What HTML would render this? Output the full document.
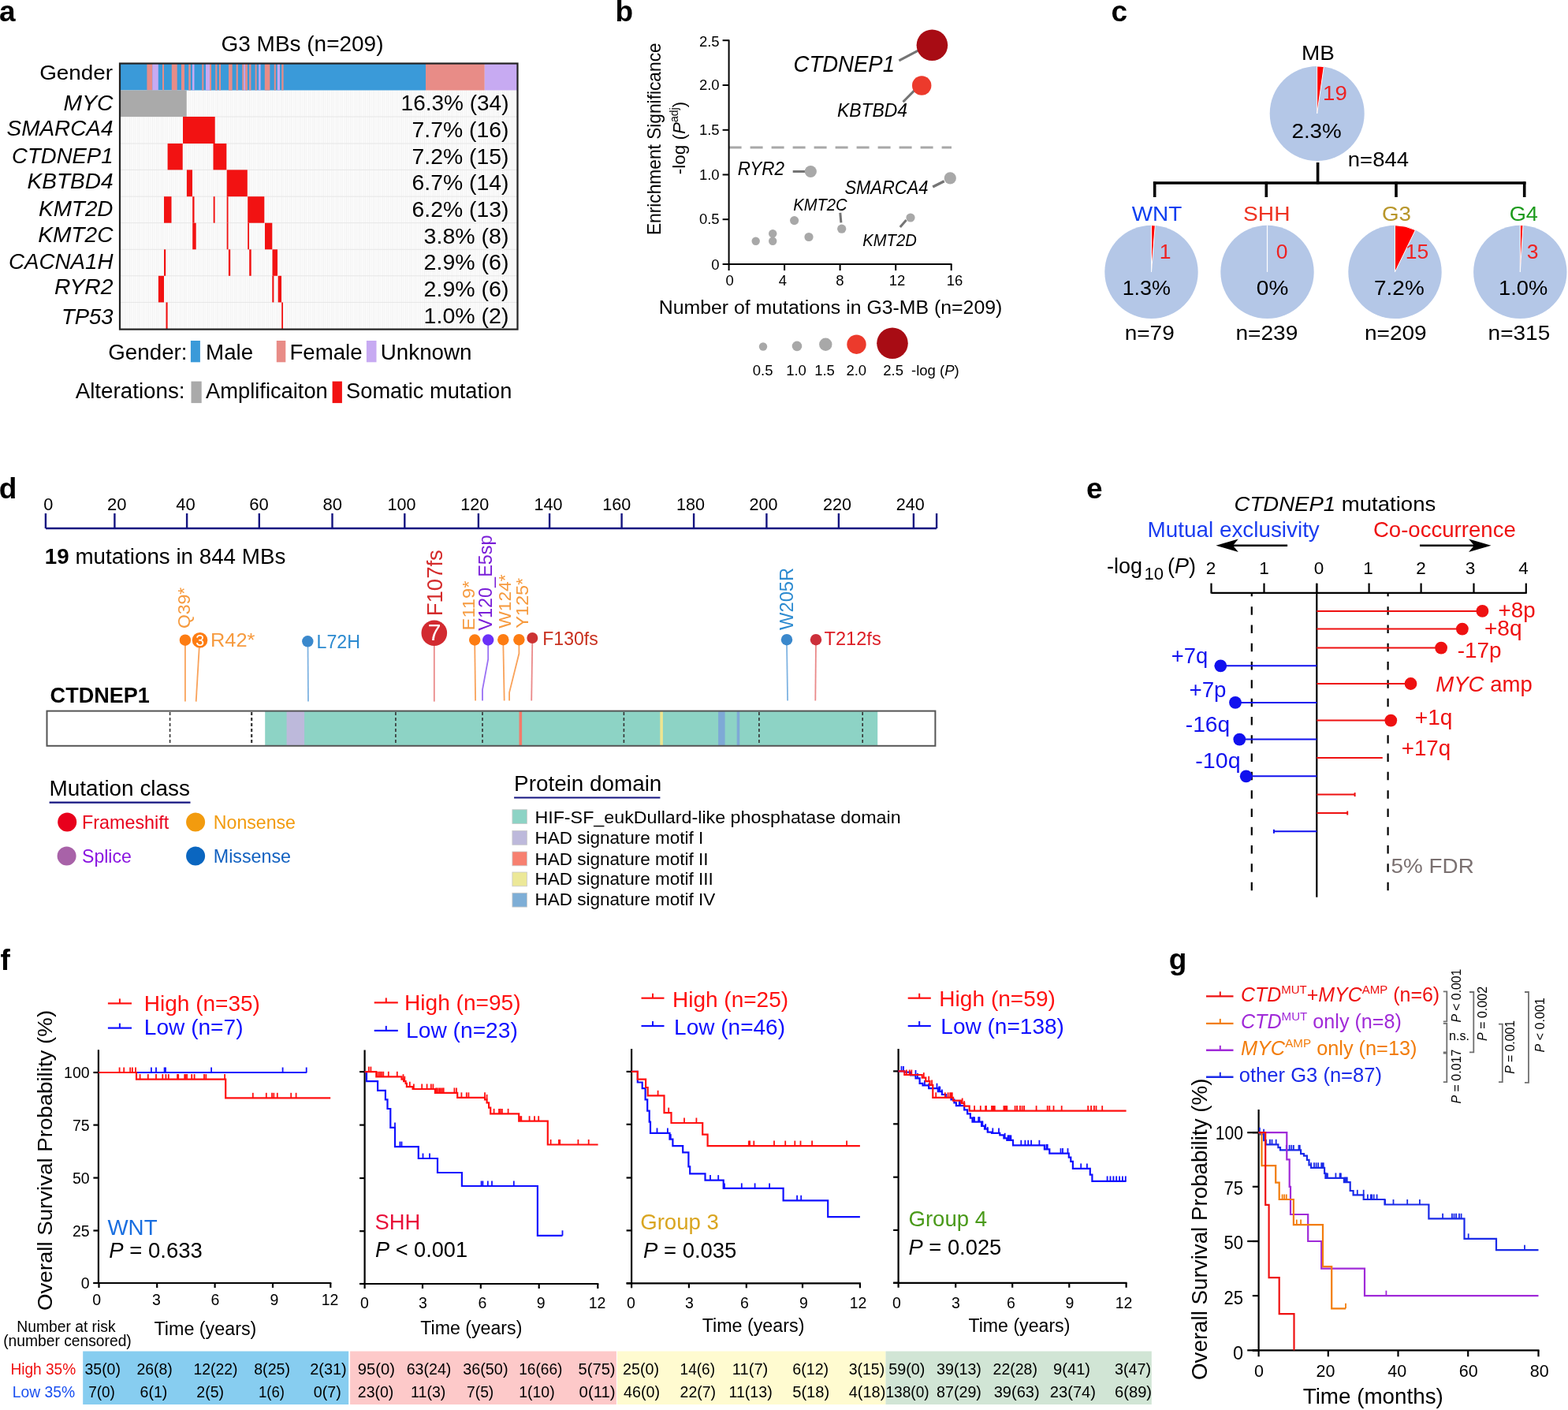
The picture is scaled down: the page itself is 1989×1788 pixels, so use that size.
<!DOCTYPE html>
<html><head><meta charset="utf-8"><title>Figure</title>
<style>html,body{margin:0;padding:0;background:#fff;}svg{display:block;}
text{font-family:"Liberation Sans",Arial,sans-serif;}</style></head>
<body><svg width="1989" height="1788" viewBox="0 0 1989 1788">
<rect width="1989" height="1788" fill="#fff"/>
<text x="-1.0" y="27.3" font-size="37" font-weight="bold">a</text>
<text x="780.5" y="26.8" font-size="37" font-weight="bold">b</text>
<text x="1409.5" y="27.3" font-size="37" font-weight="bold">c</text>
<text x="-1.3" y="631.7" font-size="37" font-weight="bold">d</text>
<text x="1378.0" y="632.3" font-size="37" font-weight="bold">e</text>
<text x="0.4" y="1229.8" font-size="37" font-weight="bold">f</text>
<text x="1482.7" y="1229.2" font-size="37" font-weight="bold">g</text>
<text x="383.5" y="65.0" font-size="27" text-anchor="middle" textLength="205.9" lengthAdjust="spacingAndGlyphs">G3 MBs (n=209)</text>
<defs><pattern id="cols" x="152" y="0" width="2.413" height="10" patternUnits="userSpaceOnUse"><rect width="2.413" height="10" fill="#fcfcfc"/><rect x="0" width="0.6" height="10" fill="#eeeeee"/></pattern></defs>
<rect x="152.0" y="114.5" width="504.5" height="303.1" fill="url(#cols)" />
<line x1="152.0" y1="148.0" x2="656.5" y2="148.0" stroke="#e6e6e6" stroke-width="1" />
<line x1="152.0" y1="182.0" x2="656.5" y2="182.0" stroke="#e6e6e6" stroke-width="1" />
<line x1="152.0" y1="215.4" x2="656.5" y2="215.4" stroke="#e6e6e6" stroke-width="1" />
<line x1="152.0" y1="249.2" x2="656.5" y2="249.2" stroke="#e6e6e6" stroke-width="1" />
<line x1="152.0" y1="282.7" x2="656.5" y2="282.7" stroke="#e6e6e6" stroke-width="1" />
<line x1="152.0" y1="316.3" x2="656.5" y2="316.3" stroke="#e6e6e6" stroke-width="1" />
<line x1="152.0" y1="349.8" x2="656.5" y2="349.8" stroke="#e6e6e6" stroke-width="1" />
<line x1="152.0" y1="383.4" x2="656.5" y2="383.4" stroke="#e6e6e6" stroke-width="1" />
<rect x="152.0" y="80.5" width="388.0" height="34.0" fill="#3a9ad9" />
<rect x="186.4" y="80.5" width="6.9" height="34.0" fill="#e88c87" />
<rect x="193.3" y="80.5" width="7.5" height="34.0" fill="#c7aaf2" />
<rect x="206.0" y="80.5" width="2.0" height="34.0" fill="#e88c87" />
<rect x="217.8" y="80.5" width="6.9" height="34.0" fill="#e88c87" />
<rect x="230.0" y="80.5" width="4.0" height="34.0" fill="#e88c87" />
<rect x="239.3" y="80.5" width="2.4" height="34.0" fill="#e88c87" />
<rect x="244.0" y="80.5" width="2.5" height="34.0" fill="#c7aaf2" />
<rect x="256.3" y="80.5" width="2.0" height="34.0" fill="#e88c87" />
<rect x="261.0" y="80.5" width="5.0" height="34.0" fill="#c7aaf2" />
<rect x="266.0" y="80.5" width="2.0" height="34.0" fill="#e88c87" />
<rect x="273.3" y="80.5" width="2.0" height="34.0" fill="#e88c87" />
<rect x="278.0" y="80.5" width="2.0" height="34.0" fill="#e88c87" />
<rect x="290.0" y="80.5" width="4.6" height="34.0" fill="#e88c87" />
<rect x="299.7" y="80.5" width="2.1" height="34.0" fill="#e88c87" />
<rect x="307.3" y="80.5" width="2.0" height="34.0" fill="#e88c87" />
<rect x="309.3" y="80.5" width="1.9" height="34.0" fill="#c7aaf2" />
<rect x="311.2" y="80.5" width="2.7" height="34.0" fill="#e88c87" />
<rect x="316.2" y="80.5" width="2.2" height="34.0" fill="#e88c87" />
<rect x="323.7" y="80.5" width="1.9" height="34.0" fill="#e88c87" />
<rect x="328.2" y="80.5" width="2.4" height="34.0" fill="#c7aaf2" />
<rect x="335.8" y="80.5" width="6.6" height="34.0" fill="#e88c87" />
<rect x="347.8" y="80.5" width="2.0" height="34.0" fill="#e88c87" />
<rect x="351.8" y="80.5" width="3.2" height="34.0" fill="#c7aaf2" />
<rect x="357.3" y="80.5" width="2.3" height="34.0" fill="#e88c87" />
<rect x="540.0" y="80.5" width="74.8" height="34.0" fill="#e88c87" />
<rect x="614.8" y="80.5" width="41.7" height="34.0" fill="#c7aaf2" />
<rect x="152.0" y="114.5" width="84.7" height="33.5" fill="#aaaaaa" />
<rect x="232.0" y="148.0" width="40.7" height="34.0" fill="#f21212" />
<rect x="212.6" y="182.0" width="19.1" height="33.4" fill="#f21212" />
<rect x="270.5" y="182.0" width="16.8" height="33.4" fill="#f21212" />
<rect x="236.9" y="215.4" width="7.1" height="33.8" fill="#f21212" />
<rect x="287.7" y="215.4" width="26.1" height="33.8" fill="#f21212" />
<rect x="208.0" y="249.2" width="9.5" height="33.5" fill="#f21212" />
<rect x="244.2" y="249.2" width="2.3" height="33.5" fill="#f21212" />
<rect x="270.7" y="249.2" width="1.9" height="33.5" fill="#f21212" />
<rect x="287.7" y="249.2" width="1.8" height="33.5" fill="#f21212" />
<rect x="314.2" y="249.2" width="21.1" height="33.5" fill="#f21212" />
<rect x="244.2" y="282.7" width="4.5" height="33.6" fill="#f21212" />
<rect x="287.7" y="282.7" width="1.8" height="33.6" fill="#f21212" />
<rect x="314.2" y="282.7" width="1.8" height="33.6" fill="#f21212" />
<rect x="336.0" y="282.7" width="9.3" height="33.6" fill="#f21212" />
<rect x="208.0" y="316.3" width="2.2" height="33.5" fill="#f21212" />
<rect x="289.9" y="316.3" width="2.3" height="33.5" fill="#f21212" />
<rect x="316.2" y="316.3" width="2.5" height="33.5" fill="#f21212" />
<rect x="345.5" y="316.3" width="6.5" height="33.5" fill="#f21212" />
<rect x="200.9" y="349.8" width="7.1" height="33.6" fill="#f21212" />
<rect x="345.3" y="349.8" width="2.1" height="33.6" fill="#f21212" />
<rect x="352.7" y="349.8" width="4.3" height="33.6" fill="#f21212" />
<rect x="210.5" y="383.4" width="2.1" height="34.2" fill="#f21212" />
<rect x="357.2" y="383.4" width="1.8" height="34.2" fill="#f21212" />
<rect x="152.0" y="80.5" width="504.5" height="337.1" fill="none" stroke="#222" stroke-width="2.2"/>
<text x="143.0" y="101.3" font-size="26" text-anchor="end" textLength="92.8" lengthAdjust="spacingAndGlyphs">Gender</text>
<text x="143.5" y="139.5" font-size="27" text-anchor="end" font-style="italic" textLength="62.9" lengthAdjust="spacingAndGlyphs">MYC</text>
<text x="143.5" y="172.2" font-size="27" text-anchor="end" font-style="italic" textLength="134.9" lengthAdjust="spacingAndGlyphs">SMARCA4</text>
<text x="143.5" y="207.1" font-size="27" text-anchor="end" font-style="italic" textLength="128.4" lengthAdjust="spacingAndGlyphs">CTDNEP1</text>
<text x="143.5" y="239.4" font-size="27" text-anchor="end" font-style="italic" textLength="108.9" lengthAdjust="spacingAndGlyphs">KBTBD4</text>
<text x="143.5" y="273.7" font-size="27" text-anchor="end" font-style="italic" textLength="94.4" lengthAdjust="spacingAndGlyphs">KMT2D</text>
<text x="143.5" y="307.0" font-size="27" text-anchor="end" font-style="italic" textLength="95.3" lengthAdjust="spacingAndGlyphs">KMT2C</text>
<text x="143.5" y="341.3" font-size="27" text-anchor="end" font-style="italic" textLength="132.5" lengthAdjust="spacingAndGlyphs">CACNA1H</text>
<text x="143.5" y="372.6" font-size="27" text-anchor="end" font-style="italic" textLength="74.4" lengthAdjust="spacingAndGlyphs">RYR2</text>
<text x="143.5" y="410.8" font-size="27" text-anchor="end" font-style="italic" textLength="65.6" lengthAdjust="spacingAndGlyphs">TP53</text>
<text x="645.5" y="140.0" font-size="27.5" text-anchor="end" textLength="136.9" lengthAdjust="spacingAndGlyphs">16.3% (34)</text>
<text x="645.5" y="174.2" font-size="27.5" text-anchor="end" textLength="122.9" lengthAdjust="spacingAndGlyphs">7.7% (16)</text>
<text x="645.5" y="207.5" font-size="27.5" text-anchor="end" textLength="122.9" lengthAdjust="spacingAndGlyphs">7.2% (15)</text>
<text x="645.5" y="241.3" font-size="27.5" text-anchor="end" textLength="122.9" lengthAdjust="spacingAndGlyphs">6.7% (14)</text>
<text x="645.5" y="275.0" font-size="27.5" text-anchor="end" textLength="122.9" lengthAdjust="spacingAndGlyphs">6.2% (13)</text>
<text x="645.5" y="308.6" font-size="27.5" text-anchor="end" textLength="107.9" lengthAdjust="spacingAndGlyphs">3.8% (8)</text>
<text x="645.5" y="342.3" font-size="27.5" text-anchor="end" textLength="107.9" lengthAdjust="spacingAndGlyphs">2.9% (6)</text>
<text x="645.5" y="375.9" font-size="27.5" text-anchor="end" textLength="107.9" lengthAdjust="spacingAndGlyphs">2.9% (6)</text>
<text x="645.5" y="409.5" font-size="27.5" text-anchor="end" textLength="107.9" lengthAdjust="spacingAndGlyphs">1.0% (2)</text>
<text x="137.3" y="455.8" font-size="27" textLength="100.2" lengthAdjust="spacingAndGlyphs">Gender:</text>
<rect x="241.9" y="432.0" width="12.0" height="27.3" fill="#3a9ad9" />
<text x="261.1" y="455.8" font-size="27" textLength="60.1" lengthAdjust="spacingAndGlyphs">Male</text>
<rect x="350.8" y="432.0" width="11.5" height="27.3" fill="#e88c87" />
<text x="367.4" y="455.8" font-size="27" textLength="92.2" lengthAdjust="spacingAndGlyphs">Female</text>
<rect x="464.9" y="432.0" width="12.6" height="27.3" fill="#c7aaf2" />
<text x="482.7" y="455.8" font-size="27" textLength="115.9" lengthAdjust="spacingAndGlyphs">Unknown</text>
<text x="95.7" y="504.6" font-size="27" textLength="138.9" lengthAdjust="spacingAndGlyphs">Alterations:</text>
<rect x="242.5" y="483.6" width="13.2" height="27.5" fill="#aaaaaa" />
<text x="261.1" y="504.6" font-size="27" textLength="154.7" lengthAdjust="spacingAndGlyphs">Amplificaiton</text>
<rect x="421.6" y="483.6" width="12.3" height="27.5" fill="#f21212" />
<text x="439.1" y="504.6" font-size="27" textLength="210.3" lengthAdjust="spacingAndGlyphs">Somatic mutation</text>
<line x1="924.6" y1="187.0" x2="1207.0" y2="187.0" stroke="#a8a8a8" stroke-width="3.2" stroke-dasharray="16,11"/>
<line x1="924.6" y1="50.5" x2="924.6" y2="336.0" stroke="#000" stroke-width="2" />
<line x1="923.6" y1="335.0" x2="1207.5" y2="335.0" stroke="#000" stroke-width="2" />
<line x1="916.6" y1="335.0" x2="924.6" y2="335.0" stroke="#000" stroke-width="2" />
<text x="912.6" y="341.7" font-size="18.5" text-anchor="end">0</text>
<line x1="916.6" y1="278.2" x2="924.6" y2="278.2" stroke="#000" stroke-width="2" />
<text x="912.6" y="283.6" font-size="18.5" text-anchor="end">0.5</text>
<line x1="916.6" y1="221.5" x2="924.6" y2="221.5" stroke="#000" stroke-width="2" />
<text x="912.6" y="228.1" font-size="18.5" text-anchor="end">1.0</text>
<line x1="916.6" y1="164.8" x2="924.6" y2="164.8" stroke="#000" stroke-width="2" />
<text x="912.6" y="170.9" font-size="18.5" text-anchor="end">1.5</text>
<line x1="916.6" y1="108.0" x2="924.6" y2="108.0" stroke="#000" stroke-width="2" />
<text x="912.6" y="113.7" font-size="18.5" text-anchor="end">2.0</text>
<line x1="916.6" y1="51.2" x2="924.6" y2="51.2" stroke="#000" stroke-width="2" />
<text x="912.6" y="59.4" font-size="18.5" text-anchor="end">2.5</text>
<line x1="924.6" y1="335.0" x2="924.6" y2="343.0" stroke="#000" stroke-width="2" />
<text x="925.7" y="362.2" font-size="18.5" text-anchor="middle">0</text>
<line x1="995.1" y1="335.0" x2="995.1" y2="343.0" stroke="#000" stroke-width="2" />
<text x="993.0" y="362.2" font-size="18.5" text-anchor="middle">4</text>
<line x1="1065.6" y1="335.0" x2="1065.6" y2="343.0" stroke="#000" stroke-width="2" />
<text x="1065.4" y="362.2" font-size="18.5" text-anchor="middle">8</text>
<line x1="1136.2" y1="335.0" x2="1136.2" y2="343.0" stroke="#000" stroke-width="2" />
<text x="1138.0" y="362.2" font-size="18.5" text-anchor="middle">12</text>
<line x1="1206.7" y1="335.0" x2="1206.7" y2="343.0" stroke="#000" stroke-width="2" />
<text x="1211.0" y="362.2" font-size="18.5" text-anchor="middle">16</text>
<text x="838.3" y="176.2" font-size="24" text-anchor="middle" textLength="243.7" lengthAdjust="spacingAndGlyphs" transform="rotate(-90 838.3 176.2)">Enrichment Significance</text>
<text x="869" y="175" font-size="22.5" text-anchor="middle" transform="rotate(-90 869 175)">-log (<tspan font-style="italic">P</tspan><tspan font-size="14" dy="-9">adj</tspan><tspan dy="9">)</tspan></text>
<text x="1053.5" y="398.4" font-size="23" text-anchor="middle" textLength="435.6" lengthAdjust="spacingAndGlyphs">Number of mutations in G3-MB (n=209)</text>
<line x1="1140.4" y1="76.9" x2="1165.6" y2="63.7" stroke="#747474" stroke-width="3" />
<line x1="1145.5" y1="129.2" x2="1160.0" y2="114.6" stroke="#747474" stroke-width="3" />
<line x1="1005.7" y1="217.5" x2="1021.6" y2="217.5" stroke="#747474" stroke-width="3" />
<line x1="1183.2" y1="237.0" x2="1197.7" y2="229.8" stroke="#747474" stroke-width="3.5" />
<line x1="1065.8" y1="269.8" x2="1066.9" y2="282.4" stroke="#747474" stroke-width="3" />
<line x1="1141.8" y1="288.0" x2="1149.6" y2="279.0" stroke="#747474" stroke-width="3" />
<circle cx="1182.4" cy="57.3" r="19.8" fill="#a80c14" />
<circle cx="1169.2" cy="108.5" r="12.2" fill="#ec3a2c" />
<circle cx="1028.3" cy="217.5" r="7.6" fill="#a8a8a8" />
<circle cx="1205.3" cy="225.9" r="7.6" fill="#a8a8a8" />
<circle cx="1067.7" cy="290.2" r="5.6" fill="#a8a8a8" />
<circle cx="1155.0" cy="276.0" r="5.6" fill="#a8a8a8" />
<circle cx="1007.6" cy="279.6" r="5.6" fill="#a8a8a8" />
<circle cx="980.2" cy="296.3" r="5.2" fill="#a8a8a8" />
<circle cx="980.2" cy="305.8" r="5.2" fill="#a8a8a8" />
<circle cx="958.7" cy="305.8" r="5.2" fill="#a8a8a8" />
<circle cx="1026.0" cy="300.5" r="5.6" fill="#a8a8a8" />
<text x="1006.5" y="90.6" font-size="28.8" font-style="italic" textLength="128.5" lengthAdjust="spacingAndGlyphs">CTDNEP1</text>
<text x="1062.0" y="148.4" font-size="23.5" font-style="italic" textLength="89.1" lengthAdjust="spacingAndGlyphs">KBTBD4</text>
<text x="935.8" y="222.4" font-size="23.5" font-style="italic" textLength="59.1" lengthAdjust="spacingAndGlyphs">RYR2</text>
<text x="1071.4" y="246.0" font-size="23.5" font-style="italic" textLength="106.1" lengthAdjust="spacingAndGlyphs">SMARCA4</text>
<text x="1006.2" y="266.7" font-size="22" font-style="italic" textLength="68.5" lengthAdjust="spacingAndGlyphs">KMT2C</text>
<text x="1094.3" y="312.0" font-size="22" font-style="italic" textLength="68.5" lengthAdjust="spacingAndGlyphs">KMT2D</text>
<circle cx="968.0" cy="439.5" r="5.2" fill="#a8a8a8" />
<circle cx="1011.0" cy="438.9" r="6.3" fill="#a8a8a8" />
<circle cx="1047.3" cy="436.7" r="8.2" fill="#a8a8a8" />
<circle cx="1086.5" cy="436.7" r="12.2" fill="#ec3a2c" />
<circle cx="1132.0" cy="435.3" r="19.8" fill="#a80c14" />
<text x="967.7" y="475.5" font-size="18.5" text-anchor="middle">0.5</text>
<text x="1010.0" y="475.5" font-size="18.5" text-anchor="middle">1.0</text>
<text x="1046.0" y="475.5" font-size="18.5" text-anchor="middle">1.5</text>
<text x="1086.3" y="475.5" font-size="18.5" text-anchor="middle">2.0</text>
<text x="1133.2" y="475.5" font-size="18.5" text-anchor="middle">2.5</text>
<text x="1156" y="475.5" font-size="18.5">-log (<tspan font-style="italic">P</tspan>)</text>
<circle cx="1670.7" cy="144.0" r="60.0" fill="#b4c7e7" />
<path d="M1670.7,144.0 L1670.7,84.0 A60,60 0 0 1 1679.3,84.6 Z" fill="#ff0000" stroke="#ffffff" stroke-width="1"/>
<text x="1672.0" y="75.9" font-size="26.5" text-anchor="middle" textLength="41.9" lengthAdjust="spacingAndGlyphs">MB</text>
<text x="1693.4" y="126.5" font-size="26.5" text-anchor="middle" fill="#ee2222" textLength="30.7" lengthAdjust="spacingAndGlyphs">19</text>
<text x="1670.1" y="174.7" font-size="26.5" text-anchor="middle" textLength="63.3" lengthAdjust="spacingAndGlyphs">2.3%</text>
<text x="1748.4" y="210.8" font-size="26.5" text-anchor="middle" textLength="77.1" lengthAdjust="spacingAndGlyphs">n=844</text>
<line x1="1671.6" y1="206.0" x2="1671.6" y2="233.5" stroke="#000" stroke-width="3.6" />
<line x1="1462.9" y1="232.0" x2="1935.5" y2="232.0" stroke="#000" stroke-width="3.6" />
<line x1="1464.7" y1="230.5" x2="1464.7" y2="250.0" stroke="#000" stroke-width="3.6" />
<line x1="1606.3" y1="230.5" x2="1606.3" y2="250.0" stroke="#000" stroke-width="3.6" />
<line x1="1771.0" y1="230.5" x2="1771.0" y2="250.0" stroke="#000" stroke-width="3.6" />
<line x1="1933.7" y1="230.5" x2="1933.7" y2="250.0" stroke="#000" stroke-width="3.6" />
<circle cx="1460.5" cy="344.9" r="59.2" fill="#b4c7e7" />
<path d="M1460.5,344.9 L1460.5,285.7 A59.2,59.2 0 0 1 1465.3,285.9 Z" fill="#ff0000" stroke="#ffffff" stroke-width="1"/>
<text x="1467.5" y="279.5" font-size="26.5" text-anchor="middle" fill="#0a3ef0" textLength="63.6" lengthAdjust="spacingAndGlyphs">WNT</text>
<text x="1478.0" y="328.3" font-size="26.5" text-anchor="middle" fill="#ee2222">1</text>
<text x="1454.3" y="373.5" font-size="26.5" text-anchor="middle" textLength="61.3" lengthAdjust="spacingAndGlyphs">1.3%</text>
<text x="1458.2" y="431.3" font-size="26.5" text-anchor="middle" textLength="63.1" lengthAdjust="spacingAndGlyphs">n=79</text>
<circle cx="1607.5" cy="344.9" r="59.2" fill="#b4c7e7" />
<line x1="1607.5" y1="344.9" x2="1607.5" y2="285.7" stroke="#ffffff" stroke-width="1.2" />
<text x="1606.8" y="279.5" font-size="26.5" text-anchor="middle" fill="#ee3322" textLength="59.4" lengthAdjust="spacingAndGlyphs">SHH</text>
<text x="1626.2" y="328.3" font-size="26.5" text-anchor="middle" fill="#ee2222">0</text>
<text x="1614.1" y="373.5" font-size="26.5" text-anchor="middle" textLength="40.5" lengthAdjust="spacingAndGlyphs">0%</text>
<text x="1606.9" y="431.3" font-size="26.5" text-anchor="middle" textLength="79.0" lengthAdjust="spacingAndGlyphs">n=239</text>
<circle cx="1769.5" cy="344.9" r="59.2" fill="#b4c7e7" />
<path d="M1769.5,344.9 L1769.5,285.7 A59.2,59.2 0 0 1 1795.4,291.7 Z" fill="#ff0000" stroke="#ffffff" stroke-width="1"/>
<text x="1771.5" y="279.5" font-size="26.5" text-anchor="middle" fill="#b8962a" textLength="37.0" lengthAdjust="spacingAndGlyphs">G3</text>
<text x="1797.4" y="328.3" font-size="26.5" text-anchor="middle" fill="#ee2222">15</text>
<text x="1774.9" y="373.5" font-size="26.5" text-anchor="middle" textLength="63.6" lengthAdjust="spacingAndGlyphs">7.2%</text>
<text x="1770.3" y="431.3" font-size="26.5" text-anchor="middle" textLength="78.7" lengthAdjust="spacingAndGlyphs">n=209</text>
<circle cx="1928.3" cy="344.9" r="59.2" fill="#b4c7e7" />
<path d="M1928.3,344.9 L1928.3,285.7 A59.2,59.2 0 0 1 1932.0,285.8 Z" fill="#ff0000" stroke="#ffffff" stroke-width="1"/>
<text x="1932.8" y="279.5" font-size="26.5" text-anchor="middle" fill="#1c9a1c" textLength="36.3" lengthAdjust="spacingAndGlyphs">G4</text>
<text x="1944.2" y="328.3" font-size="26.5" text-anchor="middle" fill="#ee2222">3</text>
<text x="1932.2" y="373.5" font-size="26.5" text-anchor="middle" textLength="62.2" lengthAdjust="spacingAndGlyphs">1.0%</text>
<text x="1926.9" y="431.3" font-size="26.5" text-anchor="middle" textLength="78.7" lengthAdjust="spacingAndGlyphs">n=315</text>
<line x1="57.9" y1="670.0" x2="1188.1" y2="670.0" stroke="#141480" stroke-width="2.4" />
<line x1="57.9" y1="651.0" x2="57.9" y2="670.0" stroke="#141480" stroke-width="2.4" />
<line x1="145.4" y1="651.0" x2="145.4" y2="670.0" stroke="#141480" stroke-width="2.4" />
<line x1="237.1" y1="651.0" x2="237.1" y2="670.0" stroke="#141480" stroke-width="2.4" />
<line x1="328.8" y1="651.0" x2="328.8" y2="670.0" stroke="#141480" stroke-width="2.4" />
<line x1="421.5" y1="651.0" x2="421.5" y2="670.0" stroke="#141480" stroke-width="2.4" />
<line x1="513.3" y1="651.0" x2="513.3" y2="670.0" stroke="#141480" stroke-width="2.4" />
<line x1="606.9" y1="651.0" x2="606.9" y2="670.0" stroke="#141480" stroke-width="2.4" />
<line x1="697.1" y1="651.0" x2="697.1" y2="670.0" stroke="#141480" stroke-width="2.4" />
<line x1="788.6" y1="651.0" x2="788.6" y2="670.0" stroke="#141480" stroke-width="2.4" />
<line x1="880.1" y1="651.0" x2="880.1" y2="670.0" stroke="#141480" stroke-width="2.4" />
<line x1="972.4" y1="651.0" x2="972.4" y2="670.0" stroke="#141480" stroke-width="2.4" />
<line x1="1063.9" y1="651.0" x2="1063.9" y2="670.0" stroke="#141480" stroke-width="2.4" />
<line x1="1158.9" y1="651.0" x2="1158.9" y2="670.0" stroke="#141480" stroke-width="2.4" />
<line x1="1188.1" y1="651.0" x2="1188.1" y2="670.0" stroke="#141480" stroke-width="2.4" />
<text x="61.3" y="646.5" font-size="22.8" text-anchor="middle" textLength="12.1" lengthAdjust="spacingAndGlyphs">0</text>
<text x="148.3" y="646.5" font-size="22.8" text-anchor="middle" textLength="24.5" lengthAdjust="spacingAndGlyphs">20</text>
<text x="235.4" y="646.5" font-size="22.8" text-anchor="middle" textLength="24.5" lengthAdjust="spacingAndGlyphs">40</text>
<text x="328.5" y="646.5" font-size="22.8" text-anchor="middle" textLength="24.5" lengthAdjust="spacingAndGlyphs">60</text>
<text x="421.8" y="646.5" font-size="22.8" text-anchor="middle" textLength="24.5" lengthAdjust="spacingAndGlyphs">80</text>
<text x="509.5" y="646.5" font-size="22.8" text-anchor="middle" textLength="36.0" lengthAdjust="spacingAndGlyphs">100</text>
<text x="602.3" y="646.5" font-size="22.8" text-anchor="middle" textLength="36.0" lengthAdjust="spacingAndGlyphs">120</text>
<text x="695.4" y="646.5" font-size="22.8" text-anchor="middle" textLength="36.0" lengthAdjust="spacingAndGlyphs">140</text>
<text x="782.3" y="646.5" font-size="22.8" text-anchor="middle" textLength="36.0" lengthAdjust="spacingAndGlyphs">160</text>
<text x="875.9" y="646.5" font-size="22.8" text-anchor="middle" textLength="36.0" lengthAdjust="spacingAndGlyphs">180</text>
<text x="968.6" y="646.5" font-size="22.8" text-anchor="middle" textLength="36.0" lengthAdjust="spacingAndGlyphs">200</text>
<text x="1061.9" y="646.5" font-size="22.8" text-anchor="middle" textLength="36.0" lengthAdjust="spacingAndGlyphs">220</text>
<text x="1154.7" y="646.5" font-size="22.8" text-anchor="middle" textLength="36.0" lengthAdjust="spacingAndGlyphs">240</text>
<text x="56.8" y="714.6" font-size="27" textLength="305.5" lengthAdjust="spacingAndGlyphs"><tspan font-weight="bold">19</tspan> mutations in 844 MBs</text>
<text x="63.6" y="891.4" font-size="28.5" font-weight="bold" textLength="126.3" lengthAdjust="spacingAndGlyphs">CTDNEP1</text>
<rect x="59.5" y="901.6" width="1126.9" height="44.2" fill="#ffffff" />
<rect x="336.2" y="901.6" width="777.0" height="44.2" fill="#8dd3c5" />
<rect x="363.6" y="901.6" width="22.5" height="44.2" fill="#bdb9db" />
<rect x="658.5" y="901.6" width="3.6" height="44.2" fill="#f47a6a" />
<rect x="837.3" y="901.6" width="3.6" height="44.2" fill="#eee590" />
<rect x="911.1" y="901.6" width="8.5" height="44.2" fill="#7ea9d6" />
<rect x="934.7" y="901.6" width="3.5" height="44.2" fill="#7ea9d6" />
<line x1="215.6" y1="903.0" x2="215.6" y2="944.5" stroke="#333" stroke-width="1.6" stroke-dasharray="4,3"/>
<line x1="319.2" y1="903.0" x2="319.2" y2="944.5" stroke="#333" stroke-width="2.2" stroke-dasharray="4,3"/>
<line x1="501.9" y1="903.0" x2="501.9" y2="944.5" stroke="#333" stroke-width="1.6" stroke-dasharray="4,3"/>
<line x1="612.0" y1="903.0" x2="612.0" y2="944.5" stroke="#333" stroke-width="1.6" stroke-dasharray="4,3"/>
<line x1="791.4" y1="903.0" x2="791.4" y2="944.5" stroke="#333" stroke-width="1.6" stroke-dasharray="4,3"/>
<line x1="962.9" y1="903.0" x2="962.9" y2="944.5" stroke="#333" stroke-width="1.6" stroke-dasharray="4,3"/>
<line x1="1094.2" y1="903.0" x2="1094.2" y2="944.5" stroke="#333" stroke-width="1.6" stroke-dasharray="4,3"/>
<rect x="59.5" y="901.6" width="1126.9" height="44.2" fill="none" stroke="#555" stroke-width="2"/>
<path d="M234.9,815.0 L234.9,889.6" stroke="#f9a25a" stroke-width="1.8" fill="none" />
<path d="M252.8,820.0 L248.7,889.6" stroke="#f9a25a" stroke-width="1.8" fill="none" />
<path d="M390.5,815.0 L391.0,889.6" stroke="#80b4e2" stroke-width="1.8" fill="none" />
<path d="M550.8,815.0 L550.8,889.6" stroke="#ea8a8a" stroke-width="1.8" fill="none" />
<path d="M602.2,815.0 L603.1,888.6" stroke="#f9a25a" stroke-width="1.8" fill="none" />
<path d="M619.2,815.0 L619.2,835.8 L612.0,874.5 L612.0,888.6" stroke="#9a70f4" stroke-width="1.8" fill="none" />
<path d="M638.3,815.0 L639.7,888.6" stroke="#f9a25a" stroke-width="1.8" fill="none" />
<path d="M658.4,815.0 L658.4,828.8 L646.1,878.0 L646.1,888.6" stroke="#f9a25a" stroke-width="1.8" fill="none" />
<path d="M675.3,813.0 L674.2,888.6" stroke="#ea8a8a" stroke-width="1.8" fill="none" />
<path d="M998.0,815.0 L999.1,888.6" stroke="#80b4e2" stroke-width="1.8" fill="none" />
<path d="M1035.0,815.0 L1034.3,888.6" stroke="#ea8a8a" stroke-width="1.8" fill="none" />
<circle cx="234.9" cy="811.7" r="7.2" fill="#fd7c12" />
<circle cx="253.5" cy="811.7" r="9.8" fill="#fd7c12" />
<text x="253.6" y="818.6" font-size="19.5" text-anchor="middle" fill="#fff">3</text>
<circle cx="390.3" cy="813.3" r="7.2" fill="#3a88cc" />
<circle cx="550.8" cy="802.7" r="16.3" fill="#d22a30" />
<text x="551.2" y="812.2" font-size="30" text-anchor="middle" fill="#fff">7</text>
<circle cx="602.2" cy="811.5" r="7.2" fill="#fd7c12" />
<circle cx="619.2" cy="811.5" r="7.2" fill="#6a30f8" />
<circle cx="638.3" cy="811.2" r="7.2" fill="#fd7c12" />
<circle cx="658.4" cy="811.2" r="7.2" fill="#fd7c12" />
<circle cx="675.3" cy="809.0" r="7.0" fill="#cc3333" />
<circle cx="998.0" cy="811.2" r="7.2" fill="#3a88cc" />
<circle cx="1035.0" cy="811.2" r="7.2" fill="#cc2f3a" />
<text x="267.0" y="820.4" font-size="24.5" fill="#f69a3e" textLength="56.4" lengthAdjust="spacingAndGlyphs">R42*</text>
<text x="401.5" y="822.0" font-size="24.5" fill="#2c8ad0" textLength="55.5" lengthAdjust="spacingAndGlyphs">L72H</text>
<text x="688.3" y="818.2" font-size="24.5" fill="#c8301e" textLength="70.4" lengthAdjust="spacingAndGlyphs">F130fs</text>
<text x="1045.6" y="818.0" font-size="24.5" fill="#dc1c24" textLength="72.1" lengthAdjust="spacingAndGlyphs">T212fs</text>
<text x="241.3" y="797.0" font-size="22.2" fill="#f69a3e" textLength="52.2" lengthAdjust="spacingAndGlyphs" transform="rotate(-90 241.3 797.0)">Q39*</text>
<text x="561.5" y="781.2" font-size="27" fill="#d42a2a" textLength="84.0" lengthAdjust="spacingAndGlyphs" transform="rotate(-90 561.5 781.2)">F107fs</text>
<text x="601.5" y="799.5" font-size="22.6" fill="#f69a3e" textLength="63.1" lengthAdjust="spacingAndGlyphs" transform="rotate(-90 601.5 799.5)">E119*</text>
<text x="624.5" y="799.7" font-size="23" fill="#7a1ed8" textLength="121.3" lengthAdjust="spacingAndGlyphs" transform="rotate(-90 624.5 799.7)">V120_E5sp</text>
<text x="648.5" y="796.8" font-size="22.3" fill="#f69a3e" textLength="68.5" lengthAdjust="spacingAndGlyphs" transform="rotate(-90 648.5 796.8)">W124*</text>
<text x="670.5" y="796.8" font-size="22.9" fill="#f69a3e" textLength="64.0" lengthAdjust="spacingAndGlyphs" transform="rotate(-90 670.5 796.8)">Y125*</text>
<text x="1006.0" y="798.9" font-size="23.2" fill="#2c8ad0" textLength="79.1" lengthAdjust="spacingAndGlyphs" transform="rotate(-90 1006.0 798.9)">W205R</text>
<text x="62.6" y="1009.2" font-size="27" textLength="178.4" lengthAdjust="spacingAndGlyphs">Mutation class</text>
<line x1="62.6" y1="1017.7" x2="241.5" y2="1017.7" stroke="#141480" stroke-width="2.2" />
<circle cx="85.2" cy="1042.4" r="12.0" fill="#e8001c" />
<text x="104.0" y="1050.8" font-size="24" fill="#e8001c" textLength="110.2" lengthAdjust="spacingAndGlyphs">Frameshift</text>
<circle cx="248.1" cy="1042.4" r="12.0" fill="#f29b0e" />
<text x="270.8" y="1050.8" font-size="24" fill="#f29b0e" textLength="104.2" lengthAdjust="spacingAndGlyphs">Nonsense</text>
<circle cx="84.6" cy="1085.5" r="12.0" fill="#a862a8" />
<text x="104.0" y="1093.7" font-size="24" fill="#8a14e0" textLength="62.9" lengthAdjust="spacingAndGlyphs">Splice</text>
<circle cx="248.1" cy="1085.5" r="12.0" fill="#0a66c0" />
<text x="270.8" y="1093.7" font-size="24" fill="#1060c0" textLength="98.2" lengthAdjust="spacingAndGlyphs">Missense</text>
<text x="652.1" y="1003.2" font-size="27" textLength="187.2" lengthAdjust="spacingAndGlyphs">Protein domain</text>
<line x1="652.1" y1="1011.5" x2="837.4" y2="1011.5" stroke="#141480" stroke-width="2.2" />
<rect x="649.9" y="1026.7" width="18.5" height="17.8" fill="#8dd3c5" stroke="#c8c8c8" stroke-width="0.8"/>
<text x="678.4" y="1044.1" font-size="22.5" textLength="464.2" lengthAdjust="spacingAndGlyphs">HIF-SF_eukDullard-like phosphatase domain</text>
<rect x="649.9" y="1053.5" width="18.5" height="17.8" fill="#bdb9db" stroke="#c8c8c8" stroke-width="0.8"/>
<text x="678.4" y="1070.1" font-size="22.5">HAD signature motif I</text>
<rect x="649.9" y="1080.0" width="18.5" height="17.8" fill="#f78070" stroke="#c8c8c8" stroke-width="0.8"/>
<text x="678.4" y="1096.7" font-size="22.5">HAD signature motif II</text>
<rect x="649.9" y="1106.0" width="18.5" height="17.8" fill="#ece898" stroke="#c8c8c8" stroke-width="0.8"/>
<text x="678.4" y="1122.1" font-size="22.5">HAD signature motif III</text>
<rect x="649.9" y="1132.3" width="18.5" height="17.8" fill="#7eaed6" stroke="#c8c8c8" stroke-width="0.8"/>
<text x="678.4" y="1148.4" font-size="22.5">HAD signature motif IV</text>
<text x="1565.5" y="648.2" font-size="26" textLength="255.8" lengthAdjust="spacingAndGlyphs"><tspan font-style="italic">CTDNEP1</tspan> mutations</text>
<text x="1455.6" y="680.5" font-size="27.4" fill="#1a3cf0" textLength="218.2" lengthAdjust="spacingAndGlyphs">Mutual exclusivity</text>
<text x="1741.9" y="680.5" font-size="27.4" fill="#ee1111" textLength="180.9" lengthAdjust="spacingAndGlyphs">Co-occurrence</text>
<line x1="1560.0" y1="691.8" x2="1633.1" y2="691.8" stroke="#000" stroke-width="2.4" />
<path d="M1542.4,691.8 L1570.8,683.5 L1564,691.8 L1570.8,700.1 Z" fill="#000"/>
<line x1="1801.0" y1="691.8" x2="1874.0" y2="691.8" stroke="#000" stroke-width="2.4" />
<path d="M1891.5,691.8 L1863.1,683.5 L1869.9,691.8 L1863.1,700.1 Z" fill="#000"/>
<text x="1404" y="726.6" font-size="27">-log<tspan x="1451.5" y="734.5" font-size="22">10</tspan><tspan x="1481" y="726.6">(<tspan font-style="italic">P</tspan>)</tspan></text>
<text x="1536.0" y="728.3" font-size="22.5" text-anchor="middle">2</text>
<text x="1603.5" y="728.3" font-size="22.5" text-anchor="middle">1</text>
<text x="1672.9" y="728.3" font-size="22.5" text-anchor="middle">0</text>
<text x="1735.5" y="728.3" font-size="22.5" text-anchor="middle">1</text>
<text x="1802.6" y="728.3" font-size="22.5" text-anchor="middle">2</text>
<text x="1865.0" y="728.3" font-size="22.5" text-anchor="middle">3</text>
<text x="1932.5" y="728.3" font-size="22.5" text-anchor="middle">4</text>
<line x1="1536.5" y1="751.9" x2="1936.5" y2="751.9" stroke="#000" stroke-width="2.2" />
<line x1="1536.5" y1="739.6" x2="1536.5" y2="752.5" stroke="#000" stroke-width="2.2" />
<line x1="1603.5" y1="739.6" x2="1603.5" y2="752.5" stroke="#000" stroke-width="2.2" />
<line x1="1670.3" y1="739.6" x2="1670.3" y2="752.5" stroke="#000" stroke-width="2.2" />
<line x1="1736.6" y1="739.6" x2="1736.6" y2="752.5" stroke="#000" stroke-width="2.2" />
<line x1="1802.6" y1="739.6" x2="1802.6" y2="752.5" stroke="#000" stroke-width="2.2" />
<line x1="1869.5" y1="739.6" x2="1869.5" y2="752.5" stroke="#000" stroke-width="2.2" />
<line x1="1935.8" y1="739.6" x2="1935.8" y2="752.5" stroke="#000" stroke-width="2.2" />
<line x1="1670.3" y1="740.0" x2="1670.3" y2="1137.7" stroke="#000" stroke-width="2.2" />
<line x1="1587.8" y1="751.0" x2="1587.8" y2="1133.7" stroke="#000" stroke-width="2.2" stroke-dasharray="10.5,12.8" stroke-dashoffset="5.15"/>
<line x1="1760.6" y1="751.0" x2="1760.6" y2="1133.7" stroke="#000" stroke-width="2.2" stroke-dasharray="10.5,12.8" stroke-dashoffset="5.15"/>
<line x1="1670.3" y1="774.9" x2="1880.4" y2="774.9" stroke="#ee1111" stroke-width="2" />
<circle cx="1880.4" cy="774.9" r="7.9" fill="#ee1111" />
<line x1="1670.3" y1="797.6" x2="1854.9" y2="797.6" stroke="#ee1111" stroke-width="2" />
<circle cx="1854.9" cy="797.6" r="7.9" fill="#ee1111" />
<line x1="1670.3" y1="821.6" x2="1828.1" y2="821.6" stroke="#ee1111" stroke-width="2" />
<circle cx="1828.1" cy="821.6" r="7.9" fill="#ee1111" />
<line x1="1670.3" y1="844.3" x2="1548.3" y2="844.3" stroke="#1111ee" stroke-width="2" />
<circle cx="1548.3" cy="844.3" r="7.9" fill="#1111ee" />
<line x1="1670.3" y1="867.0" x2="1789.5" y2="867.0" stroke="#ee1111" stroke-width="2" />
<circle cx="1789.5" cy="867.0" r="7.9" fill="#ee1111" />
<line x1="1670.3" y1="890.9" x2="1567.0" y2="890.9" stroke="#1111ee" stroke-width="2" />
<circle cx="1567.0" cy="890.9" r="7.9" fill="#1111ee" />
<line x1="1670.3" y1="913.6" x2="1764.3" y2="913.6" stroke="#ee1111" stroke-width="2" />
<circle cx="1764.3" cy="913.6" r="7.9" fill="#ee1111" />
<line x1="1670.3" y1="937.6" x2="1572.3" y2="937.6" stroke="#1111ee" stroke-width="2" />
<circle cx="1572.3" cy="937.6" r="7.9" fill="#1111ee" />
<line x1="1670.3" y1="960.9" x2="1753.8" y2="960.9" stroke="#ee1111" stroke-width="2" />
<line x1="1670.3" y1="984.3" x2="1580.7" y2="984.3" stroke="#1111ee" stroke-width="2" />
<circle cx="1580.7" cy="984.3" r="7.9" fill="#1111ee" />
<line x1="1670.3" y1="1007.6" x2="1718.6" y2="1007.6" stroke="#ee1111" stroke-width="2" />
<line x1="1718.6" y1="1005.1" x2="1718.6" y2="1010.1" stroke="#ee1111" stroke-width="2" />
<line x1="1670.3" y1="1031.0" x2="1709.2" y2="1031.0" stroke="#ee1111" stroke-width="2" />
<line x1="1709.2" y1="1028.5" x2="1709.2" y2="1033.5" stroke="#ee1111" stroke-width="2" />
<line x1="1670.3" y1="1054.3" x2="1615.9" y2="1054.3" stroke="#1111ee" stroke-width="2" />
<line x1="1615.9" y1="1051.8" x2="1615.9" y2="1056.8" stroke="#1111ee" stroke-width="2" />
<text x="1900.6" y="783.2" font-size="27.6" fill="#ee1111" textLength="47.1" lengthAdjust="spacingAndGlyphs">+8p</text>
<text x="1882.9" y="806.2" font-size="27.6" fill="#ee1111" textLength="47.7" lengthAdjust="spacingAndGlyphs">+8q</text>
<text x="1848.7" y="834.2" font-size="27.6" fill="#ee1111" textLength="56.0" lengthAdjust="spacingAndGlyphs">-17p</text>
<text x="1485.8" y="841.2" font-size="27.6" fill="#1111ee" textLength="46.4" lengthAdjust="spacingAndGlyphs">+7q</text>
<text x="1821.3" y="876.6" font-size="27.6" fill="#ee1111" textLength="122.5" lengthAdjust="spacingAndGlyphs"><tspan font-style="italic">MYC</tspan> amp</text>
<text x="1508.5" y="884.0" font-size="27.6" fill="#1111ee" textLength="47.0" lengthAdjust="spacingAndGlyphs">+7p</text>
<text x="1794.8" y="919.2" font-size="27.6" fill="#ee1111" textLength="47.7" lengthAdjust="spacingAndGlyphs">+1q</text>
<text x="1503.8" y="928.4" font-size="27.6" fill="#1111ee" textLength="56.4" lengthAdjust="spacingAndGlyphs">-16q</text>
<text x="1777.7" y="957.8" font-size="27.6" fill="#ee1111" textLength="62.6" lengthAdjust="spacingAndGlyphs">+17q</text>
<text x="1516.3" y="973.9" font-size="27.6" fill="#1111ee" textLength="57.3" lengthAdjust="spacingAndGlyphs">-10q</text>
<text x="1764.6" y="1107.2" font-size="26" fill="#7a7070" textLength="105.2" lengthAdjust="spacingAndGlyphs">5% FDR</text>
<line x1="124.9" y1="1331.2" x2="124.9" y2="1628.0" stroke="#000" stroke-width="2.2" />
<line x1="118.4" y1="1360.0" x2="124.9" y2="1360.0" stroke="#000" stroke-width="2.2" />
<line x1="118.4" y1="1426.6" x2="124.9" y2="1426.6" stroke="#000" stroke-width="2.2" />
<line x1="118.4" y1="1493.6" x2="124.9" y2="1493.6" stroke="#000" stroke-width="2.2" />
<line x1="118.4" y1="1560.5" x2="124.9" y2="1560.5" stroke="#000" stroke-width="2.2" />
<line x1="118.4" y1="1627.0" x2="124.9" y2="1627.0" stroke="#000" stroke-width="2.2" />
<line x1="118.4" y1="1627.0" x2="420.3" y2="1627.0" stroke="#000" stroke-width="2.2" />
<line x1="125.5" y1="1627.0" x2="125.5" y2="1633.0" stroke="#000" stroke-width="2.2" />
<line x1="199.2" y1="1627.0" x2="199.2" y2="1633.0" stroke="#000" stroke-width="2.2" />
<line x1="272.6" y1="1627.0" x2="272.6" y2="1633.0" stroke="#000" stroke-width="2.2" />
<line x1="346.0" y1="1627.0" x2="346.0" y2="1633.0" stroke="#000" stroke-width="2.2" />
<line x1="419.3" y1="1627.0" x2="419.3" y2="1633.0" stroke="#000" stroke-width="2.2" />
<text x="113.6" y="1367.3" font-size="19.5" text-anchor="end">100</text>
<text x="113.6" y="1433.9" font-size="19.5" text-anchor="end">75</text>
<text x="113.6" y="1500.9" font-size="19.5" text-anchor="end">50</text>
<text x="113.6" y="1567.8" font-size="19.5" text-anchor="end">25</text>
<text x="113.6" y="1634.3" font-size="19.5" text-anchor="end">0</text>
<text x="122.6" y="1655.4" font-size="19.5" text-anchor="middle">0</text>
<text x="198.4" y="1655.4" font-size="19.5" text-anchor="middle">3</text>
<text x="272.9" y="1655.4" font-size="19.5" text-anchor="middle">6</text>
<text x="348.0" y="1655.4" font-size="19.5" text-anchor="middle">9</text>
<text x="418.6" y="1655.4" font-size="19.5" text-anchor="middle">12</text>
<path d="M124.9,1360.0 L389.1,1360.0" stroke="#1010ff" stroke-width="2.2" fill="none" stroke-linejoin="miter"/>
<line x1="191.9" y1="1360.0" x2="191.9" y2="1353.5" stroke="#1010ff" stroke-width="1.8" />
<line x1="198.0" y1="1360.0" x2="198.0" y2="1353.5" stroke="#1010ff" stroke-width="1.8" />
<line x1="208.6" y1="1360.0" x2="208.6" y2="1353.5" stroke="#1010ff" stroke-width="1.8" />
<line x1="210.0" y1="1360.0" x2="210.0" y2="1353.5" stroke="#1010ff" stroke-width="1.8" />
<line x1="268.1" y1="1360.0" x2="268.1" y2="1353.5" stroke="#1010ff" stroke-width="1.8" />
<line x1="358.6" y1="1360.0" x2="358.6" y2="1353.5" stroke="#1010ff" stroke-width="1.8" />
<line x1="388.7" y1="1360.0" x2="388.7" y2="1353.5" stroke="#1010ff" stroke-width="1.8" />
<path d="M124.9,1360.0 L173.0,1360.0 L173.0,1368.6 L286.2,1368.6 L286.2,1392.3 L419.2,1392.3" stroke="#ff1010" stroke-width="2.2" fill="none" stroke-linejoin="miter"/>
<line x1="151.6" y1="1360.0" x2="151.6" y2="1353.5" stroke="#ff1010" stroke-width="1.8" />
<line x1="157.2" y1="1360.0" x2="157.2" y2="1353.5" stroke="#ff1010" stroke-width="1.8" />
<line x1="165.2" y1="1360.0" x2="165.2" y2="1353.5" stroke="#ff1010" stroke-width="1.8" />
<line x1="167.9" y1="1360.0" x2="167.9" y2="1353.5" stroke="#ff1010" stroke-width="1.8" />
<line x1="172.0" y1="1360.0" x2="172.0" y2="1353.5" stroke="#ff1010" stroke-width="1.8" />
<line x1="177.6" y1="1368.6" x2="177.6" y2="1362.1" stroke="#ff1010" stroke-width="1.8" />
<line x1="187.8" y1="1368.6" x2="187.8" y2="1362.1" stroke="#ff1010" stroke-width="1.8" />
<line x1="198.0" y1="1368.6" x2="198.0" y2="1362.1" stroke="#ff1010" stroke-width="1.8" />
<line x1="206.3" y1="1368.6" x2="206.3" y2="1362.1" stroke="#ff1010" stroke-width="1.8" />
<line x1="210.4" y1="1368.6" x2="210.4" y2="1362.1" stroke="#ff1010" stroke-width="1.8" />
<line x1="213.8" y1="1368.6" x2="213.8" y2="1362.1" stroke="#ff1010" stroke-width="1.8" />
<line x1="225.1" y1="1368.6" x2="225.1" y2="1362.1" stroke="#ff1010" stroke-width="1.8" />
<line x1="226.2" y1="1368.6" x2="226.2" y2="1362.1" stroke="#ff1010" stroke-width="1.8" />
<line x1="234.2" y1="1368.6" x2="234.2" y2="1362.1" stroke="#ff1010" stroke-width="1.8" />
<line x1="235.3" y1="1368.6" x2="235.3" y2="1362.1" stroke="#ff1010" stroke-width="1.8" />
<line x1="237.1" y1="1368.6" x2="237.1" y2="1362.1" stroke="#ff1010" stroke-width="1.8" />
<line x1="243.2" y1="1368.6" x2="243.2" y2="1362.1" stroke="#ff1010" stroke-width="1.8" />
<line x1="246.6" y1="1368.6" x2="246.6" y2="1362.1" stroke="#ff1010" stroke-width="1.8" />
<line x1="259.0" y1="1368.6" x2="259.0" y2="1362.1" stroke="#ff1010" stroke-width="1.8" />
<line x1="261.3" y1="1368.6" x2="261.3" y2="1362.1" stroke="#ff1010" stroke-width="1.8" />
<line x1="285.1" y1="1368.6" x2="285.1" y2="1362.1" stroke="#ff1010" stroke-width="1.8" />
<line x1="320.8" y1="1392.3" x2="320.8" y2="1385.8" stroke="#ff1010" stroke-width="1.8" />
<line x1="337.8" y1="1392.3" x2="337.8" y2="1385.8" stroke="#ff1010" stroke-width="1.8" />
<line x1="345.0" y1="1392.3" x2="345.0" y2="1385.8" stroke="#ff1010" stroke-width="1.8" />
<line x1="347.3" y1="1392.3" x2="347.3" y2="1385.8" stroke="#ff1010" stroke-width="1.8" />
<line x1="351.8" y1="1392.3" x2="351.8" y2="1385.8" stroke="#ff1010" stroke-width="1.8" />
<line x1="369.2" y1="1392.3" x2="369.2" y2="1385.8" stroke="#ff1010" stroke-width="1.8" />
<line x1="375.6" y1="1392.3" x2="375.6" y2="1385.8" stroke="#ff1010" stroke-width="1.8" />
<line x1="136.9" y1="1272.4" x2="167.0" y2="1272.4" stroke="#ff1010" stroke-width="2.2" />
<line x1="151.9" y1="1272.4" x2="151.9" y2="1266.4" stroke="#ff1010" stroke-width="2" />
<line x1="136.9" y1="1303.6" x2="167.0" y2="1303.6" stroke="#1010ff" stroke-width="2.2" />
<line x1="151.9" y1="1303.6" x2="151.9" y2="1297.6" stroke="#1010ff" stroke-width="2" />
<text x="182.8" y="1281.5" font-size="27.5" fill="#ff1010" textLength="147.1" lengthAdjust="spacingAndGlyphs">High (n=35)</text>
<text x="182.8" y="1311.7" font-size="27.5" fill="#1010ff" textLength="125.7" lengthAdjust="spacingAndGlyphs">Low (n=7)</text>
<text x="136.4" y="1565.6" font-size="27.8" fill="#1a6fe0" textLength="63.2" lengthAdjust="spacingAndGlyphs">WNT</text>
<text x="138.3" y="1595" font-size="27.8" textLength="118.5" lengthAdjust="spacingAndGlyphs"><tspan font-style="italic">P</tspan> = 0.633</text>
<text x="195.4" y="1692.8" font-size="23" textLength="130.0" lengthAdjust="spacingAndGlyphs">Time (years)</text>
<text x="65.6" y="1662.0" font-size="25" textLength="381.1" lengthAdjust="spacingAndGlyphs" transform="rotate(-90 65.6 1662.0)">Overall Survival Probability (%)</text>
<line x1="462.6" y1="1331.4" x2="462.6" y2="1629.0" stroke="#000" stroke-width="2.2" />
<line x1="456.1" y1="1359.1" x2="462.6" y2="1359.1" stroke="#000" stroke-width="2.2" />
<line x1="456.1" y1="1426.6" x2="462.6" y2="1426.6" stroke="#000" stroke-width="2.2" />
<line x1="456.1" y1="1494.0" x2="462.6" y2="1494.0" stroke="#000" stroke-width="2.2" />
<line x1="456.1" y1="1561.2" x2="462.6" y2="1561.2" stroke="#000" stroke-width="2.2" />
<line x1="456.1" y1="1628.0" x2="462.6" y2="1628.0" stroke="#000" stroke-width="2.2" />
<line x1="456.1" y1="1628.0" x2="759.3" y2="1628.0" stroke="#000" stroke-width="2.2" />
<line x1="462.6" y1="1628.0" x2="462.6" y2="1634.0" stroke="#000" stroke-width="2.2" />
<line x1="536.0" y1="1628.0" x2="536.0" y2="1634.0" stroke="#000" stroke-width="2.2" />
<line x1="609.8" y1="1628.0" x2="609.8" y2="1634.0" stroke="#000" stroke-width="2.2" />
<line x1="683.7" y1="1628.0" x2="683.7" y2="1634.0" stroke="#000" stroke-width="2.2" />
<line x1="758.3" y1="1628.0" x2="758.3" y2="1634.0" stroke="#000" stroke-width="2.2" />
<text x="462.5" y="1658.8" font-size="19.5" text-anchor="middle">0</text>
<text x="536.5" y="1658.8" font-size="19.5" text-anchor="middle">3</text>
<text x="611.9" y="1658.8" font-size="19.5" text-anchor="middle">6</text>
<text x="686.3" y="1658.8" font-size="19.5" text-anchor="middle">9</text>
<text x="757.5" y="1658.8" font-size="19.5" text-anchor="middle">12</text>
<path d="M462.6,1359.1 L465.0,1359.1 L465.0,1371.2 L479.1,1371.2 L479.1,1382.8 L488.9,1382.8 L488.9,1394.4 L491.5,1394.4 L491.5,1406.0 L495.3,1406.0 L495.3,1429.9 L501.0,1429.9 L501.0,1454.1 L530.8,1454.1 L530.8,1469.0 L555.0,1469.0 L555.0,1487.0 L585.9,1487.0 L585.9,1504.0 L681.9,1504.0 L681.9,1566.8 L713.5,1566.8" stroke="#1010ff" stroke-width="2.2" fill="none" stroke-linejoin="miter"/>
<line x1="501.0" y1="1429.9" x2="501.0" y2="1423.4" stroke="#1010ff" stroke-width="1.8" />
<line x1="507.4" y1="1454.1" x2="507.4" y2="1447.6" stroke="#1010ff" stroke-width="1.8" />
<line x1="509.5" y1="1454.1" x2="509.5" y2="1447.6" stroke="#1010ff" stroke-width="1.8" />
<line x1="536.5" y1="1469.0" x2="536.5" y2="1462.5" stroke="#1010ff" stroke-width="1.8" />
<line x1="545.0" y1="1469.0" x2="545.0" y2="1462.5" stroke="#1010ff" stroke-width="1.8" />
<line x1="610.6" y1="1504.0" x2="610.6" y2="1497.5" stroke="#1010ff" stroke-width="1.8" />
<line x1="612.4" y1="1504.0" x2="612.4" y2="1497.5" stroke="#1010ff" stroke-width="1.8" />
<line x1="618.8" y1="1504.0" x2="618.8" y2="1497.5" stroke="#1010ff" stroke-width="1.8" />
<line x1="624.0" y1="1504.0" x2="624.0" y2="1497.5" stroke="#1010ff" stroke-width="1.8" />
<line x1="651.8" y1="1504.0" x2="651.8" y2="1497.5" stroke="#1010ff" stroke-width="1.8" />
<line x1="713.5" y1="1566.8" x2="713.5" y2="1560.3" stroke="#1010ff" stroke-width="1.8" />
<path d="M462.6,1359.1 L477.3,1359.1 L477.3,1365.3 L509.5,1365.3 L509.5,1368.7 L512.1,1368.7 L512.1,1371.2 L514.6,1371.2 L514.6,1373.8 L515.9,1373.8 L515.9,1378.2 L523.6,1378.2 L523.6,1381.0 L551.9,1381.0 L551.9,1385.9 L580.2,1385.9 L580.2,1391.8 L615.0,1391.8 L615.0,1394.4 L617.6,1394.4 L617.6,1398.3 L620.1,1398.3 L620.1,1404.7 L622.2,1404.7 L622.2,1412.4 L658.2,1412.4 L658.2,1421.7 L694.8,1421.7 L694.8,1451.5 L758.6,1451.5" stroke="#ff1010" stroke-width="2.2" fill="none" stroke-linejoin="miter"/>
<line x1="467.8" y1="1359.1" x2="467.8" y2="1352.6" stroke="#ff1010" stroke-width="1.8" />
<line x1="470.4" y1="1359.1" x2="470.4" y2="1352.6" stroke="#ff1010" stroke-width="1.8" />
<line x1="478.6" y1="1365.3" x2="478.6" y2="1358.8" stroke="#ff1010" stroke-width="1.8" />
<line x1="480.7" y1="1365.3" x2="480.7" y2="1358.8" stroke="#ff1010" stroke-width="1.8" />
<line x1="482.5" y1="1365.3" x2="482.5" y2="1358.8" stroke="#ff1010" stroke-width="1.8" />
<line x1="484.3" y1="1365.3" x2="484.3" y2="1358.8" stroke="#ff1010" stroke-width="1.8" />
<line x1="486.3" y1="1365.3" x2="486.3" y2="1358.8" stroke="#ff1010" stroke-width="1.8" />
<line x1="492.8" y1="1365.3" x2="492.8" y2="1358.8" stroke="#ff1010" stroke-width="1.8" />
<line x1="503.8" y1="1365.3" x2="503.8" y2="1358.8" stroke="#ff1010" stroke-width="1.8" />
<line x1="511.5" y1="1368.7" x2="511.5" y2="1362.2" stroke="#ff1010" stroke-width="1.8" />
<line x1="513.3" y1="1371.2" x2="513.3" y2="1364.7" stroke="#ff1010" stroke-width="1.8" />
<line x1="519.8" y1="1378.2" x2="519.8" y2="1371.7" stroke="#ff1010" stroke-width="1.8" />
<line x1="524.9" y1="1381.0" x2="524.9" y2="1374.5" stroke="#ff1010" stroke-width="1.8" />
<line x1="535.2" y1="1381.0" x2="535.2" y2="1374.5" stroke="#ff1010" stroke-width="1.8" />
<line x1="541.6" y1="1381.0" x2="541.6" y2="1374.5" stroke="#ff1010" stroke-width="1.8" />
<line x1="546.8" y1="1381.0" x2="546.8" y2="1374.5" stroke="#ff1010" stroke-width="1.8" />
<line x1="549.4" y1="1381.0" x2="549.4" y2="1374.5" stroke="#ff1010" stroke-width="1.8" />
<line x1="553.2" y1="1385.9" x2="553.2" y2="1379.4" stroke="#ff1010" stroke-width="1.8" />
<line x1="555.0" y1="1385.9" x2="555.0" y2="1379.4" stroke="#ff1010" stroke-width="1.8" />
<line x1="557.1" y1="1385.9" x2="557.1" y2="1379.4" stroke="#ff1010" stroke-width="1.8" />
<line x1="558.9" y1="1385.9" x2="558.9" y2="1379.4" stroke="#ff1010" stroke-width="1.8" />
<line x1="560.9" y1="1385.9" x2="560.9" y2="1379.4" stroke="#ff1010" stroke-width="1.8" />
<line x1="562.7" y1="1385.9" x2="562.7" y2="1379.4" stroke="#ff1010" stroke-width="1.8" />
<line x1="576.4" y1="1385.9" x2="576.4" y2="1379.4" stroke="#ff1010" stroke-width="1.8" />
<line x1="579.0" y1="1385.9" x2="579.0" y2="1379.4" stroke="#ff1010" stroke-width="1.8" />
<line x1="585.4" y1="1391.8" x2="585.4" y2="1385.3" stroke="#ff1010" stroke-width="1.8" />
<line x1="591.8" y1="1391.8" x2="591.8" y2="1385.3" stroke="#ff1010" stroke-width="1.8" />
<line x1="594.4" y1="1391.8" x2="594.4" y2="1385.3" stroke="#ff1010" stroke-width="1.8" />
<line x1="615.0" y1="1391.8" x2="615.0" y2="1385.3" stroke="#ff1010" stroke-width="1.8" />
<line x1="617.6" y1="1394.4" x2="617.6" y2="1387.9" stroke="#ff1010" stroke-width="1.8" />
<line x1="626.6" y1="1412.4" x2="626.6" y2="1405.9" stroke="#ff1010" stroke-width="1.8" />
<line x1="633.0" y1="1412.4" x2="633.0" y2="1405.9" stroke="#ff1010" stroke-width="1.8" />
<line x1="634.8" y1="1412.4" x2="634.8" y2="1405.9" stroke="#ff1010" stroke-width="1.8" />
<line x1="636.9" y1="1412.4" x2="636.9" y2="1405.9" stroke="#ff1010" stroke-width="1.8" />
<line x1="644.6" y1="1412.4" x2="644.6" y2="1405.9" stroke="#ff1010" stroke-width="1.8" />
<line x1="660.0" y1="1421.7" x2="660.0" y2="1415.2" stroke="#ff1010" stroke-width="1.8" />
<line x1="661.3" y1="1421.7" x2="661.3" y2="1415.2" stroke="#ff1010" stroke-width="1.8" />
<line x1="671.6" y1="1421.7" x2="671.6" y2="1415.2" stroke="#ff1010" stroke-width="1.8" />
<line x1="678.0" y1="1421.7" x2="678.0" y2="1415.2" stroke="#ff1010" stroke-width="1.8" />
<line x1="683.2" y1="1421.7" x2="683.2" y2="1415.2" stroke="#ff1010" stroke-width="1.8" />
<line x1="698.6" y1="1451.5" x2="698.6" y2="1445.0" stroke="#ff1010" stroke-width="1.8" />
<line x1="708.9" y1="1451.5" x2="708.9" y2="1445.0" stroke="#ff1010" stroke-width="1.8" />
<line x1="710.2" y1="1451.5" x2="710.2" y2="1445.0" stroke="#ff1010" stroke-width="1.8" />
<line x1="733.4" y1="1451.5" x2="733.4" y2="1445.0" stroke="#ff1010" stroke-width="1.8" />
<line x1="746.7" y1="1451.5" x2="746.7" y2="1445.0" stroke="#ff1010" stroke-width="1.8" />
<line x1="474.7" y1="1271.4" x2="504.8" y2="1271.4" stroke="#ff1010" stroke-width="2.2" />
<line x1="489.8" y1="1271.4" x2="489.8" y2="1265.4" stroke="#ff1010" stroke-width="2" />
<line x1="474.7" y1="1306.9" x2="504.8" y2="1306.9" stroke="#1010ff" stroke-width="2.2" />
<line x1="489.8" y1="1306.9" x2="489.8" y2="1300.9" stroke="#1010ff" stroke-width="2" />
<text x="513.0" y="1281.1" font-size="27.5" fill="#ff1010" textLength="147.6" lengthAdjust="spacingAndGlyphs">High (n=95)</text>
<text x="515.1" y="1315.9" font-size="27.5" fill="#1010ff" textLength="141.7" lengthAdjust="spacingAndGlyphs">Low (n=23)</text>
<text x="475.5" y="1559.1" font-size="27.8" fill="#e8103a" textLength="57.8" lengthAdjust="spacingAndGlyphs">SHH</text>
<text x="476" y="1593.8" font-size="27.8" textLength="117.1" lengthAdjust="spacingAndGlyphs"><tspan font-style="italic">P</tspan> &lt; 0.001</text>
<text x="533.2" y="1691.6" font-size="23" textLength="129.2" lengthAdjust="spacingAndGlyphs">Time (years)</text>
<line x1="801.1" y1="1330.0" x2="801.1" y2="1628.3" stroke="#000" stroke-width="2.2" />
<line x1="794.6" y1="1358.9" x2="801.1" y2="1358.9" stroke="#000" stroke-width="2.2" />
<line x1="794.6" y1="1425.8" x2="801.1" y2="1425.8" stroke="#000" stroke-width="2.2" />
<line x1="794.6" y1="1493.5" x2="801.1" y2="1493.5" stroke="#000" stroke-width="2.2" />
<line x1="794.6" y1="1560.4" x2="801.1" y2="1560.4" stroke="#000" stroke-width="2.2" />
<line x1="794.6" y1="1627.3" x2="801.1" y2="1627.3" stroke="#000" stroke-width="2.2" />
<line x1="794.6" y1="1627.3" x2="1091.9" y2="1627.3" stroke="#000" stroke-width="2.2" />
<line x1="801.1" y1="1627.3" x2="801.1" y2="1633.3" stroke="#000" stroke-width="2.2" />
<line x1="873.9" y1="1627.3" x2="873.9" y2="1633.3" stroke="#000" stroke-width="2.2" />
<line x1="946.8" y1="1627.3" x2="946.8" y2="1633.3" stroke="#000" stroke-width="2.2" />
<line x1="1018.0" y1="1627.3" x2="1018.0" y2="1633.3" stroke="#000" stroke-width="2.2" />
<line x1="1090.9" y1="1627.3" x2="1090.9" y2="1633.3" stroke="#000" stroke-width="2.2" />
<text x="800.5" y="1658.8" font-size="19.5" text-anchor="middle">0</text>
<text x="874.5" y="1658.8" font-size="19.5" text-anchor="middle">3</text>
<text x="944.5" y="1658.8" font-size="19.5" text-anchor="middle">6</text>
<text x="1019.5" y="1658.8" font-size="19.5" text-anchor="middle">9</text>
<text x="1088.5" y="1658.8" font-size="19.5" text-anchor="middle">12</text>
<path d="M801.1,1358.9 L808.8,1358.9 L808.8,1372.5 L814.7,1372.5 L814.7,1380.2 L818.6,1380.2 L818.6,1394.4 L821.2,1394.4 L821.2,1408.6 L823.7,1408.6 L823.7,1422.7 L825.0,1422.7 L825.0,1436.9 L847.4,1436.9 L849.5,1436.9 L849.5,1444.6 L853.4,1444.6 L853.4,1453.1 L866.2,1453.1 L866.2,1461.3 L873.4,1461.3 L873.4,1479.3 L875.2,1479.3 L875.2,1488.3 L894.5,1488.3 L894.5,1496.6 L917.7,1496.6 L917.7,1506.9 L993.6,1506.9 L993.6,1522.3 L1050.2,1522.3 L1050.2,1543.1 L1090.9,1543.1" stroke="#1010ff" stroke-width="2.2" fill="none" stroke-linejoin="miter"/>
<line x1="833.5" y1="1436.9" x2="833.5" y2="1430.4" stroke="#1010ff" stroke-width="1.8" />
<line x1="846.9" y1="1436.9" x2="846.9" y2="1430.4" stroke="#1010ff" stroke-width="1.8" />
<line x1="850.8" y1="1444.6" x2="850.8" y2="1438.1" stroke="#1010ff" stroke-width="1.8" />
<line x1="901.0" y1="1496.6" x2="901.0" y2="1490.1" stroke="#1010ff" stroke-width="1.8" />
<line x1="911.2" y1="1496.6" x2="911.2" y2="1490.1" stroke="#1010ff" stroke-width="1.8" />
<line x1="919.0" y1="1506.9" x2="919.0" y2="1500.4" stroke="#1010ff" stroke-width="1.8" />
<line x1="940.8" y1="1506.9" x2="940.8" y2="1500.4" stroke="#1010ff" stroke-width="1.8" />
<line x1="957.6" y1="1506.9" x2="957.6" y2="1500.4" stroke="#1010ff" stroke-width="1.8" />
<line x1="976.1" y1="1506.9" x2="976.1" y2="1500.4" stroke="#1010ff" stroke-width="1.8" />
<line x1="1011.1" y1="1522.3" x2="1011.1" y2="1515.8" stroke="#1010ff" stroke-width="1.8" />
<line x1="1016.2" y1="1522.3" x2="1016.2" y2="1515.8" stroke="#1010ff" stroke-width="1.8" />
<path d="M801.1,1358.9 L808.8,1358.9 L808.8,1368.7 L819.1,1368.7 L819.1,1379.0 L821.7,1379.0 L821.7,1389.3 L842.5,1389.3 L842.5,1411.1 L851.5,1411.1 L851.5,1424.0 L891.2,1424.0 L891.2,1438.7 L897.6,1438.7 L897.6,1453.1 L1090.9,1453.1" stroke="#ff1010" stroke-width="2.2" fill="none" stroke-linejoin="miter"/>
<line x1="834.6" y1="1389.3" x2="834.6" y2="1382.8" stroke="#ff1010" stroke-width="1.8" />
<line x1="848.2" y1="1411.1" x2="848.2" y2="1404.6" stroke="#ff1010" stroke-width="1.8" />
<line x1="868.0" y1="1424.0" x2="868.0" y2="1417.5" stroke="#ff1010" stroke-width="1.8" />
<line x1="883.4" y1="1424.0" x2="883.4" y2="1417.5" stroke="#ff1010" stroke-width="1.8" />
<line x1="949.8" y1="1453.1" x2="949.8" y2="1446.6" stroke="#ff1010" stroke-width="1.8" />
<line x1="951.1" y1="1453.1" x2="951.1" y2="1446.6" stroke="#ff1010" stroke-width="1.8" />
<line x1="956.3" y1="1453.1" x2="956.3" y2="1446.6" stroke="#ff1010" stroke-width="1.8" />
<line x1="982.0" y1="1453.1" x2="982.0" y2="1446.6" stroke="#ff1010" stroke-width="1.8" />
<line x1="996.2" y1="1453.1" x2="996.2" y2="1446.6" stroke="#ff1010" stroke-width="1.8" />
<line x1="1008.3" y1="1453.1" x2="1008.3" y2="1446.6" stroke="#ff1010" stroke-width="1.8" />
<line x1="1015.5" y1="1453.1" x2="1015.5" y2="1446.6" stroke="#ff1010" stroke-width="1.8" />
<line x1="1030.1" y1="1453.1" x2="1030.1" y2="1446.6" stroke="#ff1010" stroke-width="1.8" />
<line x1="1074.1" y1="1453.1" x2="1074.1" y2="1446.6" stroke="#ff1010" stroke-width="1.8" />
<line x1="813.5" y1="1265.7" x2="842.5" y2="1265.7" stroke="#ff1010" stroke-width="2.2" />
<line x1="828.0" y1="1265.7" x2="828.0" y2="1259.7" stroke="#ff1010" stroke-width="2" />
<line x1="813.5" y1="1301.0" x2="842.5" y2="1301.0" stroke="#1010ff" stroke-width="2.2" />
<line x1="828.0" y1="1301.0" x2="828.0" y2="1295.0" stroke="#1010ff" stroke-width="2" />
<text x="853.0" y="1276.7" font-size="27.5" fill="#ff1010" textLength="147.1" lengthAdjust="spacingAndGlyphs">High (n=25)</text>
<text x="855.1" y="1311.6" font-size="27.5" fill="#1010ff" textLength="140.9" lengthAdjust="spacingAndGlyphs">Low (n=46)</text>
<text x="812.2" y="1558.6" font-size="27.8" fill="#d9a520" textLength="99.7" lengthAdjust="spacingAndGlyphs">Group 3</text>
<text x="816" y="1595.1" font-size="27.8" textLength="118.4" lengthAdjust="spacingAndGlyphs"><tspan font-style="italic">P</tspan> = 0.035</text>
<text x="890.7" y="1689.0" font-size="23" textLength="129.7" lengthAdjust="spacingAndGlyphs">Time (years)</text>
<line x1="1139.6" y1="1330.0" x2="1139.6" y2="1627.8" stroke="#000" stroke-width="2.2" />
<line x1="1133.1" y1="1358.4" x2="1139.6" y2="1358.4" stroke="#000" stroke-width="2.2" />
<line x1="1133.1" y1="1425.3" x2="1139.6" y2="1425.3" stroke="#000" stroke-width="2.2" />
<line x1="1133.1" y1="1492.7" x2="1139.6" y2="1492.7" stroke="#000" stroke-width="2.2" />
<line x1="1133.1" y1="1559.9" x2="1139.6" y2="1559.9" stroke="#000" stroke-width="2.2" />
<line x1="1133.1" y1="1626.8" x2="1139.6" y2="1626.8" stroke="#000" stroke-width="2.2" />
<line x1="1133.1" y1="1626.8" x2="1429.6" y2="1626.8" stroke="#000" stroke-width="2.2" />
<line x1="1139.6" y1="1626.8" x2="1139.6" y2="1632.8" stroke="#000" stroke-width="2.2" />
<line x1="1212.2" y1="1626.8" x2="1212.2" y2="1632.8" stroke="#000" stroke-width="2.2" />
<line x1="1284.2" y1="1626.8" x2="1284.2" y2="1632.8" stroke="#000" stroke-width="2.2" />
<line x1="1356.3" y1="1626.8" x2="1356.3" y2="1632.8" stroke="#000" stroke-width="2.2" />
<line x1="1428.6" y1="1626.8" x2="1428.6" y2="1632.8" stroke="#000" stroke-width="2.2" />
<text x="1137.5" y="1658.8" font-size="19.5" text-anchor="middle">0</text>
<text x="1212.5" y="1658.8" font-size="19.5" text-anchor="middle">3</text>
<text x="1282.5" y="1658.8" font-size="19.5" text-anchor="middle">6</text>
<text x="1357.0" y="1658.8" font-size="19.5" text-anchor="middle">9</text>
<text x="1425.5" y="1658.8" font-size="19.5" text-anchor="middle">12</text>
<path d="M1139.6,1358.4 L1147.3,1358.4 L1147.3,1359.7 L1155.0,1359.7 L1155.0,1363.5 L1161.5,1363.5 L1161.5,1367.4 L1166.6,1367.4 L1166.6,1373.8 L1170.5,1373.8 L1170.5,1376.4 L1175.6,1376.4 L1178.2,1376.4 L1178.2,1380.2 L1184.6,1380.2 L1189.8,1380.2 L1189.8,1384.1 L1194.9,1384.1 L1194.9,1388.0 L1200.1,1388.0 L1200.1,1391.8 L1206.5,1391.8 L1206.5,1394.4 L1210.4,1394.4 L1210.4,1398.3 L1212.9,1398.3 L1212.9,1402.1 L1219.4,1402.1 L1223.2,1402.1 L1223.2,1407.3 L1227.1,1407.3 L1227.1,1412.4 L1230.9,1412.4 L1230.9,1417.6 L1233.5,1417.6 L1233.5,1422.7 L1241.2,1422.7 L1245.1,1422.7 L1245.1,1427.9 L1249.0,1427.9 L1249.0,1431.7 L1252.8,1431.7 L1252.8,1435.6 L1258.0,1435.6 L1258.0,1436.9 L1267.0,1436.9 L1268.3,1436.9 L1268.3,1439.4 L1273.4,1439.4 L1273.4,1443.3 L1277.3,1443.3 L1277.3,1445.9 L1285.0,1445.9 L1285.0,1448.4 L1285.0,1452.3 L1323.6,1452.3 L1324.9,1452.3 L1324.9,1457.4 L1331.3,1457.4 L1331.3,1462.6 L1353.2,1462.6 L1355.8,1462.6 L1355.8,1467.7 L1358.3,1467.7 L1358.3,1472.9 L1360.9,1472.9 L1360.9,1481.9 L1381.5,1481.9 L1382.8,1481.9 L1382.8,1489.6 L1385.4,1489.6 L1385.4,1497.9 L1428.6,1497.9" stroke="#1010ff" stroke-width="2.2" fill="none" stroke-linejoin="miter"/>
<line x1="1143.5" y1="1358.4" x2="1143.5" y2="1351.9" stroke="#1010ff" stroke-width="1.8" />
<line x1="1146.0" y1="1358.4" x2="1146.0" y2="1351.9" stroke="#1010ff" stroke-width="1.8" />
<line x1="1161.5" y1="1363.5" x2="1161.5" y2="1357.0" stroke="#1010ff" stroke-width="1.8" />
<line x1="1164.0" y1="1367.4" x2="1164.0" y2="1360.9" stroke="#1010ff" stroke-width="1.8" />
<line x1="1173.0" y1="1376.4" x2="1173.0" y2="1369.9" stroke="#1010ff" stroke-width="1.8" />
<line x1="1178.2" y1="1380.2" x2="1178.2" y2="1373.7" stroke="#1010ff" stroke-width="1.8" />
<line x1="1188.5" y1="1380.2" x2="1188.5" y2="1373.7" stroke="#1010ff" stroke-width="1.8" />
<line x1="1191.1" y1="1384.1" x2="1191.1" y2="1377.6" stroke="#1010ff" stroke-width="1.8" />
<line x1="1192.3" y1="1384.1" x2="1192.3" y2="1377.6" stroke="#1010ff" stroke-width="1.8" />
<line x1="1194.9" y1="1388.0" x2="1194.9" y2="1381.5" stroke="#1010ff" stroke-width="1.8" />
<line x1="1216.8" y1="1402.1" x2="1216.8" y2="1395.6" stroke="#1010ff" stroke-width="1.8" />
<line x1="1218.1" y1="1402.1" x2="1218.1" y2="1395.6" stroke="#1010ff" stroke-width="1.8" />
<line x1="1234.8" y1="1422.7" x2="1234.8" y2="1416.2" stroke="#1010ff" stroke-width="1.8" />
<line x1="1236.1" y1="1422.7" x2="1236.1" y2="1416.2" stroke="#1010ff" stroke-width="1.8" />
<line x1="1241.2" y1="1422.7" x2="1241.2" y2="1416.2" stroke="#1010ff" stroke-width="1.8" />
<line x1="1242.5" y1="1422.7" x2="1242.5" y2="1416.2" stroke="#1010ff" stroke-width="1.8" />
<line x1="1246.4" y1="1427.9" x2="1246.4" y2="1421.4" stroke="#1010ff" stroke-width="1.8" />
<line x1="1250.2" y1="1431.7" x2="1250.2" y2="1425.2" stroke="#1010ff" stroke-width="1.8" />
<line x1="1252.8" y1="1435.6" x2="1252.8" y2="1429.1" stroke="#1010ff" stroke-width="1.8" />
<line x1="1259.3" y1="1436.9" x2="1259.3" y2="1430.4" stroke="#1010ff" stroke-width="1.8" />
<line x1="1267.0" y1="1436.9" x2="1267.0" y2="1430.4" stroke="#1010ff" stroke-width="1.8" />
<line x1="1274.7" y1="1443.3" x2="1274.7" y2="1436.8" stroke="#1010ff" stroke-width="1.8" />
<line x1="1278.6" y1="1445.9" x2="1278.6" y2="1439.4" stroke="#1010ff" stroke-width="1.8" />
<line x1="1279.8" y1="1445.9" x2="1279.8" y2="1439.4" stroke="#1010ff" stroke-width="1.8" />
<line x1="1281.1" y1="1445.9" x2="1281.1" y2="1439.4" stroke="#1010ff" stroke-width="1.8" />
<line x1="1282.4" y1="1445.9" x2="1282.4" y2="1439.4" stroke="#1010ff" stroke-width="1.8" />
<line x1="1295.3" y1="1452.3" x2="1295.3" y2="1445.8" stroke="#1010ff" stroke-width="1.8" />
<line x1="1300.4" y1="1452.3" x2="1300.4" y2="1445.8" stroke="#1010ff" stroke-width="1.8" />
<line x1="1304.3" y1="1452.3" x2="1304.3" y2="1445.8" stroke="#1010ff" stroke-width="1.8" />
<line x1="1308.1" y1="1452.3" x2="1308.1" y2="1445.8" stroke="#1010ff" stroke-width="1.8" />
<line x1="1318.4" y1="1452.3" x2="1318.4" y2="1445.8" stroke="#1010ff" stroke-width="1.8" />
<line x1="1327.4" y1="1457.4" x2="1327.4" y2="1450.9" stroke="#1010ff" stroke-width="1.8" />
<line x1="1328.7" y1="1457.4" x2="1328.7" y2="1450.9" stroke="#1010ff" stroke-width="1.8" />
<line x1="1345.5" y1="1462.6" x2="1345.5" y2="1456.1" stroke="#1010ff" stroke-width="1.8" />
<line x1="1348.0" y1="1462.6" x2="1348.0" y2="1456.1" stroke="#1010ff" stroke-width="1.8" />
<line x1="1354.5" y1="1462.6" x2="1354.5" y2="1456.1" stroke="#1010ff" stroke-width="1.8" />
<line x1="1371.2" y1="1481.9" x2="1371.2" y2="1475.4" stroke="#1010ff" stroke-width="1.8" />
<line x1="1378.9" y1="1481.9" x2="1378.9" y2="1475.4" stroke="#1010ff" stroke-width="1.8" />
<line x1="1404.6" y1="1497.9" x2="1404.6" y2="1491.4" stroke="#1010ff" stroke-width="1.8" />
<line x1="1408.5" y1="1497.9" x2="1408.5" y2="1491.4" stroke="#1010ff" stroke-width="1.8" />
<line x1="1412.4" y1="1497.9" x2="1412.4" y2="1491.4" stroke="#1010ff" stroke-width="1.8" />
<line x1="1416.2" y1="1497.9" x2="1416.2" y2="1491.4" stroke="#1010ff" stroke-width="1.8" />
<line x1="1420.1" y1="1497.9" x2="1420.1" y2="1491.4" stroke="#1010ff" stroke-width="1.8" />
<line x1="1423.9" y1="1497.9" x2="1423.9" y2="1491.4" stroke="#1010ff" stroke-width="1.8" />
<line x1="1427.8" y1="1497.9" x2="1427.8" y2="1491.4" stroke="#1010ff" stroke-width="1.8" />
<path d="M1139.6,1358.4 L1147.3,1358.4 L1147.3,1363.0 L1169.7,1363.0 L1169.7,1366.6 L1174.3,1366.6 L1174.3,1371.2 L1179.5,1371.2 L1179.5,1375.9 L1183.3,1375.9 L1183.3,1391.8 L1209.1,1391.8 L1209.1,1395.7 L1219.4,1395.7 L1219.4,1399.0 L1223.2,1399.0 L1223.2,1402.6 L1229.7,1402.6 L1229.7,1408.6 L1428.6,1408.6" stroke="#ff1010" stroke-width="2.2" fill="none" stroke-linejoin="miter"/>
<line x1="1149.9" y1="1363.0" x2="1149.9" y2="1356.5" stroke="#ff1010" stroke-width="1.8" />
<line x1="1153.7" y1="1363.0" x2="1153.7" y2="1356.5" stroke="#ff1010" stroke-width="1.8" />
<line x1="1156.3" y1="1363.0" x2="1156.3" y2="1356.5" stroke="#ff1010" stroke-width="1.8" />
<line x1="1171.8" y1="1366.6" x2="1171.8" y2="1360.1" stroke="#ff1010" stroke-width="1.8" />
<line x1="1178.2" y1="1371.2" x2="1178.2" y2="1364.7" stroke="#ff1010" stroke-width="1.8" />
<line x1="1182.1" y1="1375.9" x2="1182.1" y2="1369.4" stroke="#ff1010" stroke-width="1.8" />
<line x1="1187.2" y1="1391.8" x2="1187.2" y2="1385.3" stroke="#ff1010" stroke-width="1.8" />
<line x1="1198.8" y1="1391.8" x2="1198.8" y2="1385.3" stroke="#ff1010" stroke-width="1.8" />
<line x1="1202.6" y1="1391.8" x2="1202.6" y2="1385.3" stroke="#ff1010" stroke-width="1.8" />
<line x1="1205.2" y1="1391.8" x2="1205.2" y2="1385.3" stroke="#ff1010" stroke-width="1.8" />
<line x1="1206.5" y1="1391.8" x2="1206.5" y2="1385.3" stroke="#ff1010" stroke-width="1.8" />
<line x1="1207.8" y1="1391.8" x2="1207.8" y2="1385.3" stroke="#ff1010" stroke-width="1.8" />
<line x1="1220.7" y1="1399.0" x2="1220.7" y2="1392.5" stroke="#ff1010" stroke-width="1.8" />
<line x1="1223.2" y1="1402.6" x2="1223.2" y2="1396.1" stroke="#ff1010" stroke-width="1.8" />
<line x1="1236.1" y1="1408.6" x2="1236.1" y2="1402.1" stroke="#ff1010" stroke-width="1.8" />
<line x1="1243.8" y1="1408.6" x2="1243.8" y2="1402.1" stroke="#ff1010" stroke-width="1.8" />
<line x1="1250.2" y1="1408.6" x2="1250.2" y2="1402.1" stroke="#ff1010" stroke-width="1.8" />
<line x1="1251.0" y1="1408.6" x2="1251.0" y2="1402.1" stroke="#ff1010" stroke-width="1.8" />
<line x1="1258.0" y1="1408.6" x2="1258.0" y2="1402.1" stroke="#ff1010" stroke-width="1.8" />
<line x1="1259.3" y1="1408.6" x2="1259.3" y2="1402.1" stroke="#ff1010" stroke-width="1.8" />
<line x1="1260.5" y1="1408.6" x2="1260.5" y2="1402.1" stroke="#ff1010" stroke-width="1.8" />
<line x1="1261.8" y1="1408.6" x2="1261.8" y2="1402.1" stroke="#ff1010" stroke-width="1.8" />
<line x1="1273.4" y1="1408.6" x2="1273.4" y2="1402.1" stroke="#ff1010" stroke-width="1.8" />
<line x1="1274.7" y1="1408.6" x2="1274.7" y2="1402.1" stroke="#ff1010" stroke-width="1.8" />
<line x1="1276.0" y1="1408.6" x2="1276.0" y2="1402.1" stroke="#ff1010" stroke-width="1.8" />
<line x1="1277.3" y1="1408.6" x2="1277.3" y2="1402.1" stroke="#ff1010" stroke-width="1.8" />
<line x1="1287.6" y1="1408.6" x2="1287.6" y2="1402.1" stroke="#ff1010" stroke-width="1.8" />
<line x1="1290.1" y1="1408.6" x2="1290.1" y2="1402.1" stroke="#ff1010" stroke-width="1.8" />
<line x1="1294.0" y1="1408.6" x2="1294.0" y2="1402.1" stroke="#ff1010" stroke-width="1.8" />
<line x1="1296.6" y1="1408.6" x2="1296.6" y2="1402.1" stroke="#ff1010" stroke-width="1.8" />
<line x1="1299.1" y1="1408.6" x2="1299.1" y2="1402.1" stroke="#ff1010" stroke-width="1.8" />
<line x1="1314.6" y1="1408.6" x2="1314.6" y2="1402.1" stroke="#ff1010" stroke-width="1.8" />
<line x1="1328.7" y1="1408.6" x2="1328.7" y2="1402.1" stroke="#ff1010" stroke-width="1.8" />
<line x1="1331.3" y1="1408.6" x2="1331.3" y2="1402.1" stroke="#ff1010" stroke-width="1.8" />
<line x1="1336.5" y1="1408.6" x2="1336.5" y2="1402.1" stroke="#ff1010" stroke-width="1.8" />
<line x1="1346.7" y1="1408.6" x2="1346.7" y2="1402.1" stroke="#ff1010" stroke-width="1.8" />
<line x1="1380.2" y1="1408.6" x2="1380.2" y2="1402.1" stroke="#ff1010" stroke-width="1.8" />
<line x1="1384.1" y1="1408.6" x2="1384.1" y2="1402.1" stroke="#ff1010" stroke-width="1.8" />
<line x1="1387.9" y1="1408.6" x2="1387.9" y2="1402.1" stroke="#ff1010" stroke-width="1.8" />
<line x1="1390.5" y1="1408.6" x2="1390.5" y2="1402.1" stroke="#ff1010" stroke-width="1.8" />
<line x1="1398.2" y1="1408.6" x2="1398.2" y2="1402.1" stroke="#ff1010" stroke-width="1.8" />
<line x1="1151.7" y1="1265.7" x2="1180.8" y2="1265.7" stroke="#ff1010" stroke-width="2.2" />
<line x1="1166.2" y1="1265.7" x2="1166.2" y2="1259.7" stroke="#ff1010" stroke-width="2" />
<line x1="1151.7" y1="1301.0" x2="1180.8" y2="1301.0" stroke="#1010ff" stroke-width="2.2" />
<line x1="1166.2" y1="1301.0" x2="1166.2" y2="1295.0" stroke="#1010ff" stroke-width="2" />
<text x="1191.3" y="1275.9" font-size="27.5" fill="#ff1010" textLength="147.6" lengthAdjust="spacingAndGlyphs">High (n=59)</text>
<text x="1193.3" y="1310.8" font-size="27.5" fill="#1010ff" textLength="156.6" lengthAdjust="spacingAndGlyphs">Low (n=138)</text>
<text x="1152.5" y="1555.2" font-size="27.8" fill="#4a9a1a" textLength="99.6" lengthAdjust="spacingAndGlyphs">Group 4</text>
<text x="1152.5" y="1591.3" font-size="27.8" textLength="117.8" lengthAdjust="spacingAndGlyphs"><tspan font-style="italic">P</tspan> = 0.025</text>
<text x="1228.4" y="1689.0" font-size="23" textLength="129.0" lengthAdjust="spacingAndGlyphs">Time (years)</text>
<text x="21.3" y="1689.3" font-size="19.5" textLength="125.3" lengthAdjust="spacingAndGlyphs">Number at risk</text>
<text x="4.2" y="1706.6" font-size="19.5" textLength="162.6" lengthAdjust="spacingAndGlyphs">(number censored)</text>
<rect x="105.2" y="1713.5" width="337.0" height="67.5" fill="#87cdf0" />
<rect x="444.1" y="1713.5" width="337.8" height="67.5" fill="#fdc9c9" />
<rect x="783.0" y="1713.5" width="340.5" height="67.5" fill="#fffbd0" />
<rect x="1123.5" y="1713.5" width="337.3" height="67.5" fill="#d1e5d5" />
<text x="13.4" y="1742.5" font-size="20" fill="#f01010" textLength="82.8" lengthAdjust="spacingAndGlyphs">High 35%</text>
<text x="15.7" y="1771.9" font-size="20" fill="#1a50f0" textLength="79.4" lengthAdjust="spacingAndGlyphs">Low 35%</text>
<text x="107.5" y="1742.5" font-size="19.5" textLength="45.4" lengthAdjust="spacingAndGlyphs">35(0)</text>
<text x="173.4" y="1742.5" font-size="19.5" textLength="45.4" lengthAdjust="spacingAndGlyphs">26(8)</text>
<text x="245.6" y="1742.5" font-size="19.5" textLength="55.8" lengthAdjust="spacingAndGlyphs">12(22)</text>
<text x="322.2" y="1742.5" font-size="19.5" textLength="45.8" lengthAdjust="spacingAndGlyphs">8(25)</text>
<text x="393.2" y="1742.5" font-size="19.5" textLength="46.5" lengthAdjust="spacingAndGlyphs">2(31)</text>
<text x="453.8" y="1742.5" font-size="19.5" textLength="47.1" lengthAdjust="spacingAndGlyphs">95(0)</text>
<text x="515.7" y="1742.5" font-size="19.5" textLength="56.7" lengthAdjust="spacingAndGlyphs">63(24)</text>
<text x="587.2" y="1742.5" font-size="19.5" textLength="57.3" lengthAdjust="spacingAndGlyphs">36(50)</text>
<text x="658.2" y="1742.5" font-size="19.5" textLength="55.2" lengthAdjust="spacingAndGlyphs">16(66)</text>
<text x="733.5" y="1742.5" font-size="19.5" textLength="47.1" lengthAdjust="spacingAndGlyphs">5(75)</text>
<text x="790.0" y="1742.5" font-size="19.5" textLength="46.0" lengthAdjust="spacingAndGlyphs">25(0)</text>
<text x="862.6" y="1742.5" font-size="19.5" textLength="44.4" lengthAdjust="spacingAndGlyphs">14(6)</text>
<text x="928.8" y="1742.5" font-size="19.5" textLength="45.5" lengthAdjust="spacingAndGlyphs">11(7)</text>
<text x="1005.2" y="1742.5" font-size="19.5" textLength="46.0" lengthAdjust="spacingAndGlyphs">6(12)</text>
<text x="1076.7" y="1742.5" font-size="19.5" textLength="45.5" lengthAdjust="spacingAndGlyphs">3(15)</text>
<text x="1127.3" y="1742.5" font-size="19.5" textLength="46.0" lengthAdjust="spacingAndGlyphs">59(0)</text>
<text x="1188.0" y="1742.5" font-size="19.5" textLength="56.9" lengthAdjust="spacingAndGlyphs">39(13)</text>
<text x="1259.6" y="1742.5" font-size="19.5" textLength="56.3" lengthAdjust="spacingAndGlyphs">22(28)</text>
<text x="1336.0" y="1742.5" font-size="19.5" textLength="47.1" lengthAdjust="spacingAndGlyphs">9(41)</text>
<text x="1414.0" y="1742.5" font-size="19.5" textLength="46.0" lengthAdjust="spacingAndGlyphs">3(47)</text>
<text x="112.2" y="1771.9" font-size="19.5" textLength="33.7" lengthAdjust="spacingAndGlyphs">7(0)</text>
<text x="177.6" y="1771.9" font-size="19.5" textLength="34.8" lengthAdjust="spacingAndGlyphs">6(1)</text>
<text x="249.3" y="1771.9" font-size="19.5" textLength="34.7" lengthAdjust="spacingAndGlyphs">2(5)</text>
<text x="328.0" y="1771.9" font-size="19.5" textLength="33.0" lengthAdjust="spacingAndGlyphs">1(6)</text>
<text x="397.8" y="1771.9" font-size="19.5" textLength="34.9" lengthAdjust="spacingAndGlyphs">0(7)</text>
<text x="453.8" y="1771.9" font-size="19.5" textLength="45.5" lengthAdjust="spacingAndGlyphs">23(0)</text>
<text x="521.0" y="1771.9" font-size="19.5" textLength="44.4" lengthAdjust="spacingAndGlyphs">11(3)</text>
<text x="592.0" y="1771.9" font-size="19.5" textLength="34.3" lengthAdjust="spacingAndGlyphs">7(5)</text>
<text x="658.2" y="1771.9" font-size="19.5" textLength="45.5" lengthAdjust="spacingAndGlyphs">1(10)</text>
<text x="734.6" y="1771.9" font-size="19.5" textLength="46.0" lengthAdjust="spacingAndGlyphs">0(11)</text>
<text x="791.0" y="1771.9" font-size="19.5" textLength="46.1" lengthAdjust="spacingAndGlyphs">46(0)</text>
<text x="862.6" y="1771.9" font-size="19.5" textLength="45.5" lengthAdjust="spacingAndGlyphs">22(7)</text>
<text x="924.5" y="1771.9" font-size="19.5" textLength="55.2" lengthAdjust="spacingAndGlyphs">11(13)</text>
<text x="1005.2" y="1771.9" font-size="19.5" textLength="47.1" lengthAdjust="spacingAndGlyphs">5(18)</text>
<text x="1076.7" y="1771.9" font-size="19.5" textLength="46.6" lengthAdjust="spacingAndGlyphs">4(18)</text>
<text x="1123.5" y="1771.9" font-size="19.5" textLength="55.2" lengthAdjust="spacingAndGlyphs">138(0)</text>
<text x="1188.0" y="1771.9" font-size="19.5" textLength="56.9" lengthAdjust="spacingAndGlyphs">87(29)</text>
<text x="1260.7" y="1771.9" font-size="19.5" textLength="57.9" lengthAdjust="spacingAndGlyphs">39(63)</text>
<text x="1331.7" y="1771.9" font-size="19.5" textLength="58.4" lengthAdjust="spacingAndGlyphs">23(74)</text>
<text x="1414.0" y="1771.9" font-size="19.5" textLength="47.1" lengthAdjust="spacingAndGlyphs">6(89)</text>
<line x1="1596.6" y1="1407.0" x2="1596.6" y2="1713.3" stroke="#000" stroke-width="2.2" />
<line x1="1588.8" y1="1436.2" x2="1596.6" y2="1436.2" stroke="#000" stroke-width="2.2" />
<line x1="1588.8" y1="1504.8" x2="1596.6" y2="1504.8" stroke="#000" stroke-width="2.2" />
<line x1="1588.8" y1="1574.0" x2="1596.6" y2="1574.0" stroke="#000" stroke-width="2.2" />
<line x1="1588.8" y1="1643.1" x2="1596.6" y2="1643.1" stroke="#000" stroke-width="2.2" />
<line x1="1588.8" y1="1712.3" x2="1596.6" y2="1712.3" stroke="#000" stroke-width="2.2" />
<line x1="1588.8" y1="1712.3" x2="1952.5" y2="1712.3" stroke="#000" stroke-width="2.2" />
<line x1="1596.6" y1="1712.3" x2="1596.6" y2="1720.3" stroke="#000" stroke-width="2.2" />
<line x1="1684.8" y1="1712.3" x2="1684.8" y2="1720.3" stroke="#000" stroke-width="2.2" />
<line x1="1773.5" y1="1712.3" x2="1773.5" y2="1720.3" stroke="#000" stroke-width="2.2" />
<line x1="1862.2" y1="1712.3" x2="1862.2" y2="1720.3" stroke="#000" stroke-width="2.2" />
<line x1="1951.5" y1="1712.3" x2="1951.5" y2="1720.3" stroke="#000" stroke-width="2.2" />
<line x1="1582.2" y1="1436.2" x2="1596.6" y2="1436.2" stroke="#000" stroke-width="2.2" />
<line x1="1582.2" y1="1574.0" x2="1596.6" y2="1574.0" stroke="#000" stroke-width="2.2" />
<line x1="1582.2" y1="1712.3" x2="1596.6" y2="1712.3" stroke="#000" stroke-width="2.2" />
<text x="1577.0" y="1445.2" font-size="23.5" text-anchor="end" textLength="35.2" lengthAdjust="spacingAndGlyphs">100</text>
<text x="1577.0" y="1514.6" font-size="23.5" text-anchor="end" textLength="24.5" lengthAdjust="spacingAndGlyphs">75</text>
<text x="1577.0" y="1583.6" font-size="23.5" text-anchor="end" textLength="24.5" lengthAdjust="spacingAndGlyphs">50</text>
<text x="1577.0" y="1653.6" font-size="23.5" text-anchor="end" textLength="24.5" lengthAdjust="spacingAndGlyphs">25</text>
<text x="1577.0" y="1724.0" font-size="23.5" text-anchor="end">0</text>
<text x="1597.1" y="1746.2" font-size="21.5" text-anchor="middle">0</text>
<text x="1681.4" y="1746.2" font-size="21.5" text-anchor="middle">20</text>
<text x="1772.2" y="1746.2" font-size="21.5" text-anchor="middle">40</text>
<text x="1862.7" y="1746.2" font-size="21.5" text-anchor="middle">60</text>
<text x="1952.8" y="1746.2" font-size="21.5" text-anchor="middle">80</text>
<text x="1652.7" y="1780.1" font-size="28" textLength="178.1" lengthAdjust="spacingAndGlyphs">Time (months)</text>
<text x="1531.3" y="1750.0" font-size="28" textLength="382.4" lengthAdjust="spacingAndGlyphs" transform="rotate(-90 1531.3 1750.0)">Overall Survival Probability (%)</text>
<path d="M1596.6,1436.2 L1599.2,1436.2 L1599.2,1438.3 L1603.1,1438.3 L1603.1,1446.1 L1605.7,1446.1 L1605.7,1451.3 L1618.7,1451.3 L1621.4,1451.3 L1621.4,1455.2 L1624.0,1455.2 L1624.0,1458.4 L1647.5,1458.4 L1650.1,1458.4 L1650.1,1463.1 L1654.0,1463.1 L1654.0,1465.7 L1657.9,1465.7 L1657.9,1470.9 L1660.5,1470.9 L1660.5,1477.4 L1663.1,1477.4 L1663.1,1480.8 L1678.8,1480.8 L1680.1,1480.8 L1680.1,1487.9 L1681.4,1487.9 L1681.4,1493.9 L1703.6,1493.9 L1704.9,1493.9 L1704.9,1499.1 L1711.4,1499.1 L1712.7,1499.1 L1712.7,1510.0 L1716.6,1510.0 L1716.6,1515.3 L1729.7,1515.3 L1729.7,1521.0 L1756.5,1521.0 L1756.5,1527.5 L1812.4,1527.5 L1812.4,1545.3 L1857.5,1545.3 L1857.5,1570.8 L1898.0,1570.8 L1898.0,1585.2 L1951.5,1585.2" stroke="#1a2ae8" stroke-width="2.2" fill="none" stroke-linejoin="miter"/>
<line x1="1597.9" y1="1436.2" x2="1597.9" y2="1429.7" stroke="#1a2ae8" stroke-width="1.8" />
<line x1="1603.1" y1="1438.3" x2="1603.1" y2="1431.8" stroke="#1a2ae8" stroke-width="1.8" />
<line x1="1605.7" y1="1451.3" x2="1605.7" y2="1444.8" stroke="#1a2ae8" stroke-width="1.8" />
<line x1="1610.9" y1="1451.3" x2="1610.9" y2="1444.8" stroke="#1a2ae8" stroke-width="1.8" />
<line x1="1613.5" y1="1451.3" x2="1613.5" y2="1444.8" stroke="#1a2ae8" stroke-width="1.8" />
<line x1="1618.7" y1="1451.3" x2="1618.7" y2="1444.8" stroke="#1a2ae8" stroke-width="1.8" />
<line x1="1631.8" y1="1458.4" x2="1631.8" y2="1451.9" stroke="#1a2ae8" stroke-width="1.8" />
<line x1="1635.7" y1="1458.4" x2="1635.7" y2="1451.9" stroke="#1a2ae8" stroke-width="1.8" />
<line x1="1638.3" y1="1458.4" x2="1638.3" y2="1451.9" stroke="#1a2ae8" stroke-width="1.8" />
<line x1="1640.9" y1="1458.4" x2="1640.9" y2="1451.9" stroke="#1a2ae8" stroke-width="1.8" />
<line x1="1647.5" y1="1458.4" x2="1647.5" y2="1451.9" stroke="#1a2ae8" stroke-width="1.8" />
<line x1="1648.8" y1="1458.4" x2="1648.8" y2="1451.9" stroke="#1a2ae8" stroke-width="1.8" />
<line x1="1663.1" y1="1480.8" x2="1663.1" y2="1474.3" stroke="#1a2ae8" stroke-width="1.8" />
<line x1="1667.0" y1="1480.8" x2="1667.0" y2="1474.3" stroke="#1a2ae8" stroke-width="1.8" />
<line x1="1669.6" y1="1480.8" x2="1669.6" y2="1474.3" stroke="#1a2ae8" stroke-width="1.8" />
<line x1="1672.2" y1="1480.8" x2="1672.2" y2="1474.3" stroke="#1a2ae8" stroke-width="1.8" />
<line x1="1676.2" y1="1480.8" x2="1676.2" y2="1474.3" stroke="#1a2ae8" stroke-width="1.8" />
<line x1="1677.5" y1="1480.8" x2="1677.5" y2="1474.3" stroke="#1a2ae8" stroke-width="1.8" />
<line x1="1678.8" y1="1480.8" x2="1678.8" y2="1474.3" stroke="#1a2ae8" stroke-width="1.8" />
<line x1="1682.7" y1="1493.9" x2="1682.7" y2="1487.4" stroke="#1a2ae8" stroke-width="1.8" />
<line x1="1684.0" y1="1493.9" x2="1684.0" y2="1487.4" stroke="#1a2ae8" stroke-width="1.8" />
<line x1="1694.4" y1="1493.9" x2="1694.4" y2="1487.4" stroke="#1a2ae8" stroke-width="1.8" />
<line x1="1699.6" y1="1493.9" x2="1699.6" y2="1487.4" stroke="#1a2ae8" stroke-width="1.8" />
<line x1="1700.9" y1="1493.9" x2="1700.9" y2="1487.4" stroke="#1a2ae8" stroke-width="1.8" />
<line x1="1706.2" y1="1499.1" x2="1706.2" y2="1492.6" stroke="#1a2ae8" stroke-width="1.8" />
<line x1="1707.5" y1="1499.1" x2="1707.5" y2="1492.6" stroke="#1a2ae8" stroke-width="1.8" />
<line x1="1708.8" y1="1499.1" x2="1708.8" y2="1492.6" stroke="#1a2ae8" stroke-width="1.8" />
<line x1="1721.8" y1="1515.3" x2="1721.8" y2="1508.8" stroke="#1a2ae8" stroke-width="1.8" />
<line x1="1729.7" y1="1515.3" x2="1729.7" y2="1508.8" stroke="#1a2ae8" stroke-width="1.8" />
<line x1="1734.9" y1="1521.0" x2="1734.9" y2="1514.5" stroke="#1a2ae8" stroke-width="1.8" />
<line x1="1738.8" y1="1521.0" x2="1738.8" y2="1514.5" stroke="#1a2ae8" stroke-width="1.8" />
<line x1="1740.1" y1="1521.0" x2="1740.1" y2="1514.5" stroke="#1a2ae8" stroke-width="1.8" />
<line x1="1742.7" y1="1521.0" x2="1742.7" y2="1514.5" stroke="#1a2ae8" stroke-width="1.8" />
<line x1="1746.6" y1="1521.0" x2="1746.6" y2="1514.5" stroke="#1a2ae8" stroke-width="1.8" />
<line x1="1757.1" y1="1527.5" x2="1757.1" y2="1521.0" stroke="#1a2ae8" stroke-width="1.8" />
<line x1="1767.5" y1="1527.5" x2="1767.5" y2="1521.0" stroke="#1a2ae8" stroke-width="1.8" />
<line x1="1785.2" y1="1527.5" x2="1785.2" y2="1521.0" stroke="#1a2ae8" stroke-width="1.8" />
<line x1="1800.9" y1="1527.5" x2="1800.9" y2="1521.0" stroke="#1a2ae8" stroke-width="1.8" />
<line x1="1830.1" y1="1545.3" x2="1830.1" y2="1538.8" stroke="#1a2ae8" stroke-width="1.8" />
<line x1="1841.9" y1="1545.3" x2="1841.9" y2="1538.8" stroke="#1a2ae8" stroke-width="1.8" />
<line x1="1844.5" y1="1545.3" x2="1844.5" y2="1538.8" stroke="#1a2ae8" stroke-width="1.8" />
<line x1="1847.1" y1="1545.3" x2="1847.1" y2="1538.8" stroke="#1a2ae8" stroke-width="1.8" />
<line x1="1851.0" y1="1545.3" x2="1851.0" y2="1538.8" stroke="#1a2ae8" stroke-width="1.8" />
<line x1="1853.6" y1="1545.3" x2="1853.6" y2="1538.8" stroke="#1a2ae8" stroke-width="1.8" />
<line x1="1862.7" y1="1570.8" x2="1862.7" y2="1564.3" stroke="#1a2ae8" stroke-width="1.8" />
<line x1="1934.0" y1="1585.2" x2="1934.0" y2="1578.7" stroke="#1a2ae8" stroke-width="1.8" />
<path d="M1596.6,1436.2 L1632.3,1436.2 L1632.3,1470.4 L1635.7,1470.4 L1635.7,1504.8 L1637.0,1504.8 L1637.0,1540.0 L1659.2,1540.0 L1659.2,1574.0 L1676.2,1574.0 L1676.2,1608.7 L1731.0,1608.7 L1731.0,1643.1 L1951.5,1643.1" stroke="#a02ad8" stroke-width="2.2" fill="none" stroke-linejoin="miter"/>
<line x1="1758.4" y1="1643.1" x2="1758.4" y2="1636.6" stroke="#a02ad8" stroke-width="1.8" />
<path d="M1596.6,1436.2 L1600.5,1436.2 L1600.5,1478.2 L1618.2,1478.2 L1618.2,1499.6 L1622.7,1499.6 L1622.7,1521.0 L1640.9,1521.0 L1640.9,1553.1 L1678.0,1553.1 L1678.0,1606.1 L1689.2,1606.1 L1689.2,1659.3 L1707.0,1659.3" stroke="#f27d0c" stroke-width="2.2" fill="none" stroke-linejoin="miter"/>
<line x1="1626.6" y1="1521.0" x2="1626.6" y2="1514.5" stroke="#f27d0c" stroke-width="1.8" />
<line x1="1629.2" y1="1521.0" x2="1629.2" y2="1514.5" stroke="#f27d0c" stroke-width="1.8" />
<line x1="1631.8" y1="1521.0" x2="1631.8" y2="1514.5" stroke="#f27d0c" stroke-width="1.8" />
<line x1="1644.8" y1="1553.1" x2="1644.8" y2="1546.6" stroke="#f27d0c" stroke-width="1.8" />
<line x1="1650.1" y1="1553.1" x2="1650.1" y2="1546.6" stroke="#f27d0c" stroke-width="1.8" />
<line x1="1707.0" y1="1659.3" x2="1707.0" y2="1652.8" stroke="#f27d0c" stroke-width="1.8" />
<path d="M1596.6,1436.2 L1605.2,1436.2 L1605.2,1527.8 L1609.6,1527.8 L1609.6,1620.2 L1622.7,1620.2 L1622.7,1666.1 L1641.5,1666.1 L1641.5,1712.3" stroke="#ee1111" stroke-width="2.2" fill="none" stroke-linejoin="miter"/>
<line x1="1530.0" y1="1263.4" x2="1564.5" y2="1263.4" stroke="#ee1111" stroke-width="2.4" />
<line x1="1547.8" y1="1263.4" x2="1547.8" y2="1257.4" stroke="#ee1111" stroke-width="2" />
<line x1="1530.0" y1="1297.9" x2="1564.5" y2="1297.9" stroke="#f27d0c" stroke-width="2.4" />
<line x1="1547.8" y1="1297.9" x2="1547.8" y2="1291.9" stroke="#f27d0c" stroke-width="2" />
<line x1="1530.0" y1="1331.8" x2="1564.5" y2="1331.8" stroke="#a02ad8" stroke-width="2.4" />
<line x1="1547.8" y1="1331.8" x2="1547.8" y2="1325.8" stroke="#a02ad8" stroke-width="2" />
<line x1="1530.0" y1="1365.7" x2="1564.5" y2="1365.7" stroke="#1a2ae8" stroke-width="2.4" />
<line x1="1547.8" y1="1365.7" x2="1547.8" y2="1359.7" stroke="#1a2ae8" stroke-width="2" />
<text x="1573.9" y="1270" font-size="25" fill="#ee1111" textLength="252.3" lengthAdjust="spacingAndGlyphs"><tspan font-style="italic">CTD</tspan><tspan font-size="15" dy="-10">MUT</tspan><tspan dy="10">+</tspan><tspan font-style="italic">MYC</tspan><tspan font-size="15" dy="-10">AMP</tspan><tspan dy="10"> (n=6)</tspan></text>
<text x="1573.9" y="1303.9" font-size="25" fill="#a02ad8" textLength="204" lengthAdjust="spacingAndGlyphs"><tspan font-style="italic">CTD</tspan><tspan font-size="15" dy="-10">MUT</tspan><tspan dy="10"> only (n=8)</tspan></text>
<text x="1573.9" y="1338.3" font-size="25" fill="#f27d0c" textLength="223.6" lengthAdjust="spacingAndGlyphs"><tspan font-style="italic">MYC</tspan><tspan font-size="15" dy="-10">AMP</tspan><tspan dy="10"> only (n=13)</tspan></text>
<text x="1571.8" y="1372.2" font-size="25" fill="#1a2ae8" textLength="181.2" lengthAdjust="spacingAndGlyphs">other G3 (n=87)</text>
<path d="M1830.8,1257.4 L1835.3,1257.4 L1835.3,1295.3 L1830.8,1295.3" stroke="#707070" stroke-width="1.8" fill="none" />
<path d="M1830.8,1297.9 L1835.3,1297.9 L1835.3,1334.4 L1830.8,1334.4" stroke="#707070" stroke-width="1.8" fill="none" />
<path d="M1830.8,1335.7 L1835.3,1335.7 L1835.3,1372.2 L1830.8,1372.2" stroke="#707070" stroke-width="1.8" fill="none" />
<path d="M1864.0,1258.0 L1869.3,1258.0 L1869.3,1334.4 L1864.0,1334.4" stroke="#707070" stroke-width="1.8" fill="none" />
<path d="M1901.0,1298.6 L1905.8,1298.6 L1905.8,1372.2 L1901.0,1372.2" stroke="#707070" stroke-width="1.8" fill="none" />
<path d="M1934.0,1258.0 L1939.0,1258.0 L1939.0,1372.8 L1934.0,1372.8" stroke="#707070" stroke-width="1.8" fill="none" />
<text x="1853" y="1296.6" font-size="16.5" transform="rotate(-90 1853 1296.6)" textLength="67.9" lengthAdjust="spacingAndGlyphs"><tspan font-style="italic">P</tspan> &lt; 0.001</text>
<text x="1853" y="1399.6" font-size="16.5" transform="rotate(-90 1853 1399.6)" textLength="69.1" lengthAdjust="spacingAndGlyphs"><tspan font-style="italic">P</tspan> = 0.017</text>
<text x="1885.5" y="1320" font-size="16.5" transform="rotate(-90 1885.5 1320)" textLength="69.1" lengthAdjust="spacingAndGlyphs"><tspan font-style="italic">P</tspan> = 0.002</text>
<text x="1921.5" y="1361.8" font-size="16.5" transform="rotate(-90 1921.5 1361.8)" textLength="67.8" lengthAdjust="spacingAndGlyphs"><tspan font-style="italic">P</tspan> = 0.001</text>
<text x="1959.5" y="1334.4" font-size="16.5" transform="rotate(-90 1959.5 1334.4)" textLength="69.2" lengthAdjust="spacingAndGlyphs"><tspan font-style="italic">P</tspan> &lt; 0.001</text>
<text x="1838.0" y="1318.7" font-size="16.5" textLength="25.9" lengthAdjust="spacingAndGlyphs">n.s.</text>
</svg></body></html>
